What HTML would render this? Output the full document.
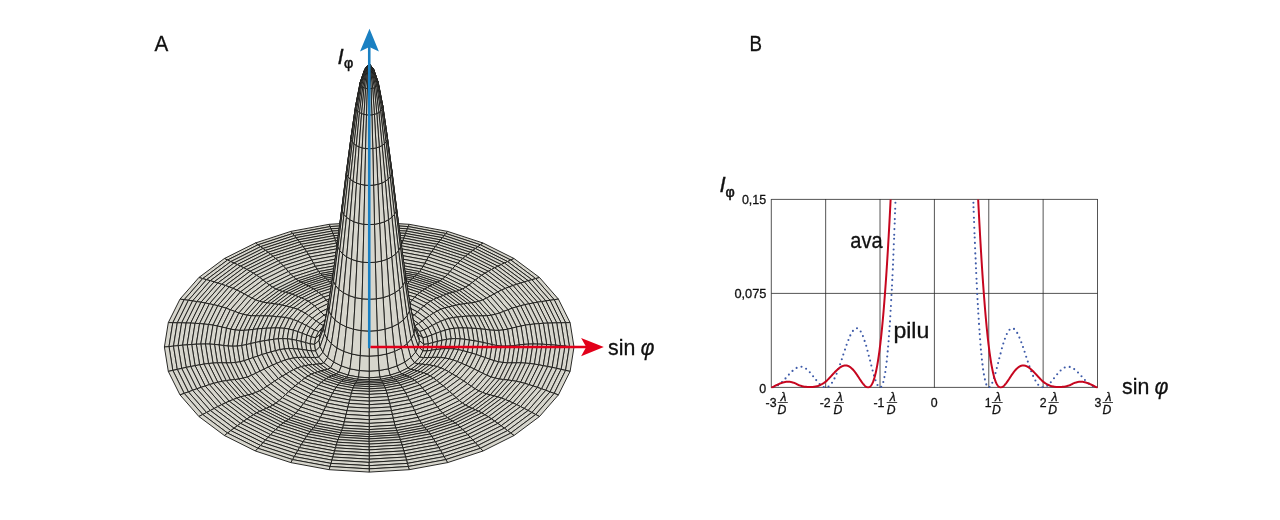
<!DOCTYPE html>
<html><head><meta charset="utf-8"><title>Airy</title>
<style>html,body{margin:0;padding:0;background:#fff}svg{display:block}</style></head>
<body><svg width="1280" height="520" viewBox="0 0 1280 520">
<rect width="1280" height="520" fill="#fff"/>
<g fill="#d7d6cd" stroke="#1d1d1b" stroke-width="0.95" stroke-linejoin="round">
<path d="M369.2 224.2L369.2 221.9L409.2 224.3L408.3 226.6Z"/>
<path d="M330.1 226.6L329.2 224.3L369.2 221.9L369.2 224.2Z"/>
<path d="M331 228.8L330.1 226.6L369.2 224.2L369.2 226.5Z"/>
<path d="M369.2 226.5L369.2 224.2L408.3 226.6L407.4 228.8Z"/>
<path d="M292.6 233.5L290.8 231.4L329.2 224.3L330.1 226.6Z"/>
<path d="M408.3 226.6L409.2 224.3L447.6 231.4L445.8 233.5Z"/>
<path d="M331.9 231.1L331 228.8L369.2 226.5L369.2 228.8Z"/>
<path d="M369.2 228.8L369.2 226.5L407.4 228.8L406.5 231.1Z"/>
<path d="M407.4 228.8L408.3 226.6L445.8 233.5L444.1 235.6Z"/>
<path d="M294.3 235.6L292.6 233.5L330.1 226.6L331 228.8Z"/>
<path d="M332.8 233.4L331.9 231.1L369.2 228.8L369.2 231.2Z"/>
<path d="M369.2 231.2L369.2 228.8L406.5 231.1L405.6 233.4Z"/>
<path d="M296.1 237.7L294.3 235.6L331 228.8L331.9 231.1Z"/>
<path d="M406.5 231.1L407.4 228.8L444.1 235.6L442.3 237.7Z"/>
<path d="M333.7 235.7L332.8 233.4L369.2 231.2L369.2 233.6Z"/>
<path d="M369.2 233.6L369.2 231.2L405.6 233.4L404.7 235.7Z"/>
<path d="M405.6 233.4L406.5 231.1L442.3 237.7L440.6 239.9Z"/>
<path d="M297.8 239.9L296.1 237.7L331.9 231.1L332.8 233.4Z"/>
<path d="M445.8 233.5L447.6 231.4L483 243L480.4 244.8Z"/>
<path d="M258 244.8L255.4 243L290.8 231.4L292.6 233.5Z"/>
<path d="M369.2 236.1L369.2 233.6L404.7 235.7L403.8 238.1Z"/>
<path d="M334.6 238.1L333.7 235.7L369.2 233.6L369.2 236.1Z"/>
<path d="M404.7 235.7L405.6 233.4L440.6 239.9L438.9 242Z"/>
<path d="M299.5 242L297.8 239.9L332.8 233.4L333.7 235.7Z"/>
<path d="M260.5 246.7L258 244.8L292.6 233.5L294.3 235.6Z"/>
<path d="M444.1 235.6L445.8 233.5L480.4 244.8L477.9 246.7Z"/>
<path d="M335.5 240.6L334.6 238.1L369.2 236.1L369.2 238.5Z"/>
<path d="M369.2 238.5L369.2 236.1L403.8 238.1L402.9 240.6Z"/>
<path d="M403.8 238.1L404.7 235.7L438.9 242L437.1 244.3Z"/>
<path d="M301.3 244.3L299.5 242L333.7 235.7L334.6 238.1Z"/>
<path d="M442.3 237.7L444.1 235.6L477.9 246.7L475.4 248.5Z"/>
<path d="M263 248.5L260.5 246.7L294.3 235.6L296.1 237.7Z"/>
<path d="M369.2 241.2L369.2 238.5L402.9 240.6L402.1 243.1Z"/>
<path d="M336.3 243.1L335.5 240.6L369.2 238.5L369.2 241.2Z"/>
<path d="M402.9 240.6L403.8 238.1L437.1 244.3L435.4 246.6Z"/>
<path d="M303 246.6L301.3 244.3L334.6 238.1L335.5 240.6Z"/>
<path d="M440.6 239.9L442.3 237.7L475.4 248.5L472.9 250.4Z"/>
<path d="M265.5 250.4L263 248.5L296.1 237.7L297.8 239.9Z"/>
<path d="M369.2 243.9L369.2 241.2L402.1 243.1L401.2 245.8Z"/>
<path d="M337.2 245.8L336.3 243.1L369.2 241.2L369.2 243.9Z"/>
<path d="M438.9 242L440.6 239.9L472.9 250.4L470.3 252.3Z"/>
<path d="M268.1 252.3L265.5 250.4L297.8 239.9L299.5 242Z"/>
<path d="M402.1 243.1L402.9 240.6L435.4 246.6L433.6 249Z"/>
<path d="M304.8 249L303 246.6L335.5 240.6L336.3 243.1Z"/>
<path d="M338.1 248.6L337.2 245.8L369.2 243.9L369.2 246.8Z"/>
<path d="M369.2 246.8L369.2 243.9L401.2 245.8L400.3 248.6Z"/>
<path d="M480.4 244.8L483 243L514 258.5L510.8 260Z"/>
<path d="M227.6 260L224.4 258.5L255.4 243L258 244.8Z"/>
<path d="M437.1 244.3L438.9 242L470.3 252.3L467.8 254.3Z"/>
<path d="M270.6 254.3L268.1 252.3L299.5 242L301.3 244.3Z"/>
<path d="M306.5 251.5L304.8 249L336.3 243.1L337.2 245.8Z"/>
<path d="M401.2 245.8L402.1 243.1L433.6 249L431.9 251.5Z"/>
<path d="M369.2 249.9L369.2 246.8L400.3 248.6L399.4 251.7Z"/>
<path d="M339 251.7L338.1 248.6L369.2 246.8L369.2 249.9Z"/>
<path d="M477.9 246.7L480.4 244.8L510.8 260L507.6 261.6Z"/>
<path d="M230.8 261.6L227.6 260L258 244.8L260.5 246.7Z"/>
<path d="M435.4 246.6L437.1 244.3L467.8 254.3L465.3 256.3Z"/>
<path d="M273.1 256.3L270.6 254.3L301.3 244.3L303 246.6Z"/>
<path d="M400.3 248.6L401.2 245.8L431.9 251.5L430.2 254.2Z"/>
<path d="M308.2 254.2L306.5 251.5L337.2 245.8L338.1 248.6Z"/>
<path d="M339.9 254.9L339 251.7L369.2 249.9L369.2 253.1Z"/>
<path d="M369.2 253.1L369.2 249.9L399.4 251.7L398.5 254.9Z"/>
<path d="M475.4 248.5L477.9 246.7L507.6 261.6L504.4 263Z"/>
<path d="M234 263L230.8 261.6L260.5 246.7L263 248.5Z"/>
<path d="M433.6 249L435.4 246.6L465.3 256.3L462.8 258.5Z"/>
<path d="M275.6 258.5L273.1 256.3L303 246.6L304.8 249Z"/>
<path d="M399.4 251.7L400.3 248.6L430.2 254.2L428.4 257.1Z"/>
<path d="M310 257.1L308.2 254.2L338.1 248.6L339 251.7Z"/>
<path d="M369.2 256.5L369.2 253.1L398.5 254.9L397.6 258.2Z"/>
<path d="M340.8 258.2L339.9 254.9L369.2 253.1L369.2 256.5Z"/>
<path d="M472.9 250.4L475.4 248.5L504.4 263L501.1 264.6Z"/>
<path d="M237.3 264.6L234 263L263 248.5L265.5 250.4Z"/>
<path d="M311.7 260.1L310 257.1L339 251.7L339.9 254.9Z"/>
<path d="M398.5 254.9L399.4 251.7L428.4 257.1L426.7 260.1Z"/>
<path d="M431.9 251.5L433.6 249L462.8 258.5L460.2 260.8Z"/>
<path d="M278.2 260.8L275.6 258.5L304.8 249L306.5 251.5Z"/>
<path d="M341.7 261.5L340.8 258.2L369.2 256.5L369.2 259.8Z"/>
<path d="M369.2 259.8L369.2 256.5L397.6 258.2L396.7 261.5Z"/>
<path d="M470.3 252.3L472.9 250.4L501.1 264.6L497.9 266.2Z"/>
<path d="M240.5 266.2L237.3 264.6L265.5 250.4L268.1 252.3Z"/>
<path d="M397.6 258.2L398.5 254.9L426.7 260.1L424.9 263.3Z"/>
<path d="M313.5 263.3L311.7 260.1L339.9 254.9L340.8 258.2Z"/>
<path d="M430.2 254.2L431.9 251.5L460.2 260.8L457.7 263.2Z"/>
<path d="M280.7 263.2L278.2 260.8L306.5 251.5L308.2 254.2Z"/>
<path d="M369.2 262.8L369.2 259.8L396.7 261.5L395.8 264.4Z"/>
<path d="M342.6 264.4L341.7 261.5L369.2 259.8L369.2 262.8Z"/>
<path d="M467.8 254.3L470.3 252.3L497.9 266.2L494.7 267.8Z"/>
<path d="M243.7 267.8L240.5 266.2L268.1 252.3L270.6 254.3Z"/>
<path d="M315.2 266.4L313.5 263.3L340.8 258.2L341.7 261.5Z"/>
<path d="M396.7 261.5L397.6 258.2L424.9 263.3L423.2 266.4Z"/>
<path d="M428.4 257.1L430.2 254.2L457.7 263.2L455.2 265.8Z"/>
<path d="M283.2 265.8L280.7 263.2L308.2 254.2L310 257.1Z"/>
<path d="M465.3 256.3L467.8 254.3L494.7 267.8L491.5 269.5Z"/>
<path d="M246.9 269.5L243.7 267.8L270.6 254.3L273.1 256.3Z"/>
<path d="M343.5 267L342.6 264.4L369.2 262.8L369.2 265.5Z"/>
<path d="M369.2 265.5L369.2 262.8L395.8 264.4L394.9 267Z"/>
<path d="M426.7 260.1L428.4 257.1L455.2 265.8L452.6 268.6Z"/>
<path d="M285.8 268.6L283.2 265.8L310 257.1L311.7 260.1Z"/>
<path d="M395.8 264.4L396.7 261.5L423.2 266.4L421.4 269.1Z"/>
<path d="M317 269.1L315.2 266.4L341.7 261.5L342.6 264.4Z"/>
<path d="M462.8 258.5L465.3 256.3L491.5 269.5L488.3 271.3Z"/>
<path d="M250.1 271.3L246.9 269.5L273.1 256.3L275.6 258.5Z"/>
<path d="M424.9 263.3L426.7 260.1L452.6 268.6L450.1 271.5Z"/>
<path d="M288.3 271.5L285.8 268.6L311.7 260.1L313.5 263.3Z"/>
<path d="M510.8 260L514 258.5L539.5 277.5L535.7 278.6Z"/>
<path d="M202.7 278.6L198.9 277.5L224.4 258.5L227.6 260Z"/>
<path d="M344.3 269.1L343.5 267L369.2 265.5L369.2 267.6Z"/>
<path d="M369.2 267.6L369.2 265.5L394.9 267L394.1 269.1Z"/>
<path d="M394.9 267L395.8 264.4L421.4 269.1L419.7 271.6Z"/>
<path d="M318.7 271.6L317 269.1L342.6 264.4L343.5 267Z"/>
<path d="M460.2 260.8L462.8 258.5L488.3 271.3L485 273.2Z"/>
<path d="M253.4 273.2L250.1 271.3L275.6 258.5L278.2 260.8Z"/>
<path d="M290.8 274.3L288.3 271.5L313.5 263.3L315.2 266.4Z"/>
<path d="M423.2 266.4L424.9 263.3L450.1 271.5L447.6 274.3Z"/>
<path d="M507.6 261.6L510.8 260L535.7 278.6L531.9 279.7Z"/>
<path d="M206.5 279.7L202.7 278.6L227.6 260L230.8 261.6Z"/>
<path d="M394.1 269.1L394.9 267L419.7 271.6L418 273.6Z"/>
<path d="M320.4 273.6L318.7 271.6L343.5 267L344.3 269.1Z"/>
<path d="M345.2 271L344.3 269.1L369.2 267.6L369.2 269.5Z"/>
<path d="M369.2 269.5L369.2 267.6L394.1 269.1L393.2 271Z"/>
<path d="M457.7 263.2L460.2 260.8L485 273.2L481.8 275.3Z"/>
<path d="M256.6 275.3L253.4 273.2L278.2 260.8L280.7 263.2Z"/>
<path d="M504.4 263L507.6 261.6L531.9 279.7L528.1 280.7Z"/>
<path d="M210.3 280.7L206.5 279.7L230.8 261.6L234 263Z"/>
<path d="M293.3 276.8L290.8 274.3L315.2 266.4L317 269.1Z"/>
<path d="M421.4 269.1L423.2 266.4L447.6 274.3L445.1 276.8Z"/>
<path d="M455.2 265.8L457.7 263.2L481.8 275.3L478.6 277.5Z"/>
<path d="M259.8 277.5L256.6 275.3L280.7 263.2L283.2 265.8Z"/>
<path d="M501.1 264.6L504.4 263L528.1 280.7L524.3 281.9Z"/>
<path d="M214.1 281.9L210.3 280.7L234 263L237.3 264.6Z"/>
<path d="M393.2 271L394.1 269.1L418 273.6L416.2 275.2Z"/>
<path d="M322.2 275.2L320.4 273.6L344.3 269.1L345.2 271Z"/>
<path d="M295.9 279.1L293.3 276.8L317 269.1L318.7 271.6Z"/>
<path d="M419.7 271.6L421.4 269.1L445.1 276.8L442.5 279.1Z"/>
<path d="M346.1 272.6L345.2 271L369.2 269.5L369.2 271.2Z"/>
<path d="M369.2 271.2L369.2 269.5L393.2 271L392.3 272.6Z"/>
<path d="M452.6 268.6L455.2 265.8L478.6 277.5L475.4 280Z"/>
<path d="M263 280L259.8 277.5L283.2 265.8L285.8 268.6Z"/>
<path d="M497.9 266.2L501.1 264.6L524.3 281.9L520.6 283Z"/>
<path d="M217.8 283L214.1 281.9L237.3 264.6L240.5 266.2Z"/>
<path d="M298.4 280.8L295.9 279.1L318.7 271.6L320.4 273.6Z"/>
<path d="M418 273.6L419.7 271.6L442.5 279.1L440 280.8Z"/>
<path d="M450.1 271.5L452.6 268.6L475.4 280L472.2 282.6Z"/>
<path d="M266.2 282.6L263 280L285.8 268.6L288.3 271.5Z"/>
<path d="M323.9 276.7L322.2 275.2L345.2 271L346.1 272.6Z"/>
<path d="M392.3 272.6L393.2 271L416.2 275.2L414.5 276.7Z"/>
<path d="M494.7 267.8L497.9 266.2L520.6 283L516.8 284.3Z"/>
<path d="M221.6 284.3L217.8 283L240.5 266.2L243.7 267.8Z"/>
<path d="M369.2 273L369.2 271.2L392.3 272.6L391.4 274.3Z"/>
<path d="M347 274.3L346.1 272.6L369.2 271.2L369.2 273Z"/>
<path d="M447.6 274.3L450.1 271.5L472.2 282.6L469 285Z"/>
<path d="M269.4 285L266.2 282.6L288.3 271.5L290.8 274.3Z"/>
<path d="M491.5 269.5L494.7 267.8L516.8 284.3L513 285.5Z"/>
<path d="M225.4 285.5L221.6 284.3L243.7 267.8L246.9 269.5Z"/>
<path d="M416.2 275.2L418 273.6L440 280.8L437.5 282.2Z"/>
<path d="M300.9 282.2L298.4 280.8L320.4 273.6L322.2 275.2Z"/>
<path d="M325.7 278.3L323.9 276.7L346.1 272.6L347 274.3Z"/>
<path d="M391.4 274.3L392.3 272.6L414.5 276.7L412.7 278.3Z"/>
<path d="M445.1 276.8L447.6 274.3L469 285L465.7 287.2Z"/>
<path d="M272.7 287.2L269.4 285L290.8 274.3L293.3 276.8Z"/>
<path d="M369.2 274.8L369.2 273L391.4 274.3L390.5 276Z"/>
<path d="M347.9 276L347 274.3L369.2 273L369.2 274.8Z"/>
<path d="M488.3 271.3L491.5 269.5L513 285.5L509.2 286.9Z"/>
<path d="M229.2 286.9L225.4 285.5L246.9 269.5L250.1 271.3Z"/>
<path d="M414.5 276.7L416.2 275.2L437.5 282.2L434.9 283.4Z"/>
<path d="M303.5 283.4L300.9 282.2L322.2 275.2L323.9 276.7Z"/>
<path d="M442.5 279.1L445.1 276.8L465.7 287.2L462.5 289.1Z"/>
<path d="M275.9 289.1L272.7 287.2L293.3 276.8L295.9 279.1Z"/>
<path d="M485 273.2L488.3 271.3L509.2 286.9L505.4 288.4Z"/>
<path d="M233 288.4L229.2 286.9L250.1 271.3L253.4 273.2Z"/>
<path d="M390.5 276L391.4 274.3L412.7 278.3L411 279.8Z"/>
<path d="M327.4 279.8L325.7 278.3L347 274.3L347.9 276Z"/>
<path d="M348.8 278L347.9 276L369.2 274.8L369.2 276.7Z"/>
<path d="M369.2 276.7L369.2 274.8L390.5 276L389.6 278Z"/>
<path d="M481.8 275.3L485 273.2L505.4 288.4L501.6 290Z"/>
<path d="M236.8 290L233 288.4L253.4 273.2L256.6 275.3Z"/>
<path d="M440 280.8L442.5 279.1L462.5 289.1L459.3 290.4Z"/>
<path d="M279.1 290.4L275.9 289.1L295.9 279.1L298.4 280.8Z"/>
<path d="M412.7 278.3L414.5 276.7L434.9 283.4L432.4 284.7Z"/>
<path d="M306 284.7L303.5 283.4L323.9 276.7L325.7 278.3Z"/>
<path d="M478.6 277.5L481.8 275.3L501.6 290L497.9 291.9Z"/>
<path d="M240.5 291.9L236.8 290L256.6 275.3L259.8 277.5Z"/>
<path d="M389.6 278L390.5 276L411 279.8L409.3 281.6Z"/>
<path d="M329.1 281.6L327.4 279.8L347.9 276L348.8 278Z"/>
<path d="M349.7 280L348.8 278L369.2 276.7L369.2 278.8Z"/>
<path d="M369.2 278.8L369.2 276.7L389.6 278L388.7 280Z"/>
<path d="M535.7 278.6L539.5 277.5L558.4 299.1L554.2 299.7Z"/>
<path d="M184.2 299.7L180 299.1L198.9 277.5L202.7 278.6Z"/>
<path d="M437.5 282.2L440 280.8L459.3 290.4L456.1 291.5Z"/>
<path d="M282.3 291.5L279.1 290.4L298.4 280.8L300.9 282.2Z"/>
<path d="M475.4 280L478.6 277.5L497.9 291.9L494.1 293.9Z"/>
<path d="M244.3 293.9L240.5 291.9L259.8 277.5L263 280Z"/>
<path d="M411 279.8L412.7 278.3L432.4 284.7L429.9 286Z"/>
<path d="M308.5 286L306 284.7L325.7 278.3L327.4 279.8Z"/>
<path d="M531.9 279.7L535.7 278.6L554.2 299.7L550 300.3Z"/>
<path d="M188.4 300.3L184.2 299.7L202.7 278.6L206.5 279.7Z"/>
<path d="M472.2 282.6L475.4 280L494.1 293.9L490.3 296.1Z"/>
<path d="M248.1 296.1L244.3 293.9L263 280L266.2 282.6Z"/>
<path d="M330.9 283.5L329.1 281.6L348.8 278L349.7 280Z"/>
<path d="M388.7 280L389.6 278L409.3 281.6L407.5 283.5Z"/>
<path d="M285.5 292.4L282.3 291.5L300.9 282.2L303.5 283.4Z"/>
<path d="M434.9 283.4L437.5 282.2L456.1 291.5L452.9 292.4Z"/>
<path d="M350.6 282L349.7 280L369.2 278.8L369.2 280.9Z"/>
<path d="M369.2 280.9L369.2 278.8L388.7 280L387.8 282Z"/>
<path d="M528.1 280.7L531.9 279.7L550 300.3L545.8 300.9Z"/>
<path d="M192.6 300.9L188.4 300.3L206.5 279.7L210.3 280.7Z"/>
<path d="M469 285L472.2 282.6L490.3 296.1L486.5 298.1Z"/>
<path d="M251.9 298.1L248.1 296.1L266.2 282.6L269.4 285Z"/>
<path d="M409.3 281.6L411 279.8L429.9 286L427.4 287.5Z"/>
<path d="M311 287.5L308.5 286L327.4 279.8L329.1 281.6Z"/>
<path d="M524.3 281.9L528.1 280.7L545.8 300.9L541.6 301.6Z"/>
<path d="M196.8 301.6L192.6 300.9L210.3 280.7L214.1 281.9Z"/>
<path d="M465.7 287.2L469 285L486.5 298.1L482.7 299.9Z"/>
<path d="M255.7 299.9L251.9 298.1L269.4 285L272.7 287.2Z"/>
<path d="M332.6 285.4L330.9 283.5L349.7 280L350.6 282Z"/>
<path d="M387.8 282L388.7 280L407.5 283.5L405.8 285.4Z"/>
<path d="M432.4 284.7L434.9 283.4L452.9 292.4L449.7 293.3Z"/>
<path d="M288.7 293.3L285.5 292.4L303.5 283.4L306 284.7Z"/>
<path d="M351.4 284.3L350.6 282L369.2 280.9L369.2 283.2Z"/>
<path d="M369.2 283.2L369.2 280.9L387.8 282L387 284.3Z"/>
<path d="M520.6 283L524.3 281.9L541.6 301.6L537.4 302.2Z"/>
<path d="M201 302.2L196.8 301.6L214.1 281.9L217.8 283Z"/>
<path d="M462.5 289.1L465.7 287.2L482.7 299.9L478.9 301.3Z"/>
<path d="M259.5 301.3L255.7 299.9L272.7 287.2L275.9 289.1Z"/>
<path d="M407.5 283.5L409.3 281.6L427.4 287.5L424.8 289.1Z"/>
<path d="M313.6 289.1L311 287.5L329.1 281.6L330.9 283.5Z"/>
<path d="M516.8 284.3L520.6 283L537.4 302.2L533.2 303Z"/>
<path d="M205.2 303L201 302.2L217.8 283L221.6 284.3Z"/>
<path d="M387 284.3L387.8 282L405.8 285.4L404 287.4Z"/>
<path d="M334.4 287.4L332.6 285.4L350.6 282L351.4 284.3Z"/>
<path d="M429.9 286L432.4 284.7L449.7 293.3L446.4 294.3Z"/>
<path d="M292 294.3L288.7 293.3L306 284.7L308.5 286Z"/>
<path d="M459.3 290.4L462.5 289.1L478.9 301.3L475.2 302.2Z"/>
<path d="M263.2 302.2L259.5 301.3L275.9 289.1L279.1 290.4Z"/>
<path d="M369.2 285.8L369.2 283.2L387 284.3L386.1 286.8Z"/>
<path d="M352.3 286.8L351.4 284.3L369.2 283.2L369.2 285.8Z"/>
<path d="M513 285.5L516.8 284.3L533.2 303L529 303.8Z"/>
<path d="M209.4 303.8L205.2 303L221.6 284.3L225.4 285.5Z"/>
<path d="M405.8 285.4L407.5 283.5L424.8 289.1L422.3 290.7Z"/>
<path d="M316.1 290.7L313.6 289.1L330.9 283.5L332.6 285.4Z"/>
<path d="M509.2 286.9L513 285.5L529 303.8L524.8 304.7Z"/>
<path d="M213.6 304.7L209.4 303.8L225.4 285.5L229.2 286.9Z"/>
<path d="M456.1 291.5L459.3 290.4L475.2 302.2L471.4 302.9Z"/>
<path d="M267 302.9L263.2 302.2L279.1 290.4L282.3 291.5Z"/>
<path d="M427.4 287.5L429.9 286L446.4 294.3L443.2 295.5Z"/>
<path d="M295.2 295.5L292 294.3L308.5 286L311 287.5Z"/>
<path d="M386.1 286.8L387 284.3L404 287.4L402.3 289.8Z"/>
<path d="M336.1 289.8L334.4 287.4L351.4 284.3L352.3 286.8Z"/>
<path d="M353.2 289.7L352.3 286.8L369.2 285.8L369.2 288.7Z"/>
<path d="M369.2 288.7L369.2 285.8L386.1 286.8L385.2 289.7Z"/>
<path d="M505.4 288.4L509.2 286.9L524.8 304.7L520.6 305.7Z"/>
<path d="M217.8 305.7L213.6 304.7L229.2 286.9L233 288.4Z"/>
<path d="M404 287.4L405.8 285.4L422.3 290.7L419.8 292.6Z"/>
<path d="M318.6 292.6L316.1 290.7L332.6 285.4L334.4 287.4Z"/>
<path d="M452.9 292.4L456.1 291.5L471.4 302.9L467.6 303.3Z"/>
<path d="M270.8 303.3L267 302.9L282.3 291.5L285.5 292.4Z"/>
<path d="M501.6 290L505.4 288.4L520.6 305.7L516.4 306.9Z"/>
<path d="M222 306.9L217.8 305.7L233 288.4L236.8 290Z"/>
<path d="M424.8 289.1L427.4 287.5L443.2 295.5L440 296.7Z"/>
<path d="M298.4 296.7L295.2 295.5L311 287.5L313.6 289.1Z"/>
<path d="M337.9 292.6L336.1 289.8L352.3 286.8L353.2 289.7Z"/>
<path d="M385.2 289.7L386.1 286.8L402.3 289.8L400.5 292.6Z"/>
<path d="M354.1 293L353.2 289.7L369.2 288.7L369.2 292.1Z"/>
<path d="M369.2 292.1L369.2 288.7L385.2 289.7L384.3 293Z"/>
<path d="M497.9 291.9L501.6 290L516.4 306.9L512.2 308.2Z"/>
<path d="M226.2 308.2L222 306.9L236.8 290L240.5 291.9Z"/>
<path d="M402.3 289.8L404 287.4L419.8 292.6L417.2 294.7Z"/>
<path d="M321.2 294.7L318.6 292.6L334.4 287.4L336.1 289.8Z"/>
<path d="M449.7 293.3L452.9 292.4L467.6 303.3L463.8 303.9Z"/>
<path d="M274.6 303.9L270.8 303.3L285.5 292.4L288.7 293.3Z"/>
<path d="M494.1 293.9L497.9 291.9L512.2 308.2L508 309.8Z"/>
<path d="M230.4 309.8L226.2 308.2L240.5 291.9L244.3 293.9Z"/>
<path d="M384.3 293L385.2 289.7L400.5 292.6L398.8 295.7Z"/>
<path d="M339.6 295.7L337.9 292.6L353.2 289.7L354.1 293Z"/>
<path d="M422.3 290.7L424.8 289.1L440 296.7L436.8 298Z"/>
<path d="M301.6 298L298.4 296.7L313.6 289.1L316.1 290.7Z"/>
<path d="M490.3 296.1L494.1 293.9L508 309.8L503.7 311.4Z"/>
<path d="M234.7 311.4L230.4 309.8L244.3 293.9L248.1 296.1Z"/>
<path d="M355 296.7L354.1 293L369.2 292.1L369.2 295.8Z"/>
<path d="M369.2 295.8L369.2 292.1L384.3 293L383.4 296.7Z"/>
<path d="M486.5 298.1L490.3 296.1L503.7 311.4L499.5 313Z"/>
<path d="M238.9 313L234.7 311.4L248.1 296.1L251.9 298.1Z"/>
<path d="M400.5 292.6L402.3 289.8L417.2 294.7L414.7 297.2Z"/>
<path d="M323.7 297.2L321.2 294.7L336.1 289.8L337.9 292.6Z"/>
<path d="M446.4 294.3L449.7 293.3L463.8 303.9L460 304.4Z"/>
<path d="M278.4 304.4L274.6 303.9L288.7 293.3L292 294.3Z"/>
<path d="M383.4 296.7L384.3 293L398.8 295.7L397.1 299.2Z"/>
<path d="M341.3 299.2L339.6 295.7L354.1 293L355 296.7Z"/>
<path d="M482.7 299.9L486.5 298.1L499.5 313L495.3 314.3Z"/>
<path d="M243.1 314.3L238.9 313L251.9 298.1L255.7 299.9Z"/>
<path d="M419.8 292.6L422.3 290.7L436.8 298L433.6 299.5Z"/>
<path d="M304.8 299.5L301.6 298L316.1 290.7L318.6 292.6Z"/>
<path d="M369.2 299.7L369.2 295.8L383.4 296.7L382.5 300.5Z"/>
<path d="M355.9 300.5L355 296.7L369.2 295.8L369.2 299.7Z"/>
<path d="M398.8 295.7L400.5 292.6L414.7 297.2L412.2 300.1Z"/>
<path d="M326.2 300.1L323.7 297.2L337.9 292.6L339.6 295.7Z"/>
<path d="M478.9 301.3L482.7 299.9L495.3 314.3L491.1 315.2Z"/>
<path d="M247.3 315.2L243.1 314.3L255.7 299.9L259.5 301.3Z"/>
<path d="M443.2 295.5L446.4 294.3L460 304.4L456.2 305.2Z"/>
<path d="M282.2 305.2L278.4 304.4L292 294.3L295.2 295.5Z"/>
<path d="M343.1 302.9L341.3 299.2L355 296.7L355.9 300.5Z"/>
<path d="M382.5 300.5L383.4 296.7L397.1 299.2L395.3 302.9Z"/>
<path d="M356.8 304.4L355.9 300.5L369.2 299.7L369.2 303.7Z"/>
<path d="M369.2 303.7L369.2 299.7L382.5 300.5L381.6 304.4Z"/>
<path d="M417.2 294.7L419.8 292.6L433.6 299.5L430.3 301.2Z"/>
<path d="M308.1 301.2L304.8 299.5L318.6 292.6L321.2 294.7Z"/>
<path d="M475.2 302.2L478.9 301.3L491.1 315.2L486.9 315.7Z"/>
<path d="M251.5 315.7L247.3 315.2L259.5 301.3L263.2 302.2Z"/>
<path d="M328.7 303.3L326.2 300.1L339.6 295.7L341.3 299.2Z"/>
<path d="M397.1 299.2L398.8 295.7L412.2 300.1L409.7 303.3Z"/>
<path d="M554.2 299.7L558.4 299.1L570.1 322.6L565.6 322.7Z"/>
<path d="M172.8 322.7L168.3 322.6L180 299.1L184.2 299.7Z"/>
<path d="M440 296.7L443.2 295.5L456.2 305.2L452.4 306Z"/>
<path d="M286 306L282.2 305.2L295.2 295.5L298.4 296.7Z"/>
<path d="M344.8 306.6L343.1 302.9L355.9 300.5L356.8 304.4Z"/>
<path d="M381.6 304.4L382.5 300.5L395.3 302.9L393.6 306.6Z"/>
<path d="M357.7 308.3L356.8 304.4L369.2 303.7L369.2 307.7Z"/>
<path d="M369.2 307.7L369.2 303.7L381.6 304.4L380.7 308.3Z"/>
<path d="M471.4 302.9L475.2 302.2L486.9 315.7L482.7 315.9Z"/>
<path d="M255.7 315.9L251.5 315.7L263.2 302.2L267 302.9Z"/>
<path d="M414.7 297.2L417.2 294.7L430.3 301.2L427.1 303.4Z"/>
<path d="M311.3 303.4L308.1 301.2L321.2 294.7L323.7 297.2Z"/>
<path d="M550 300.3L554.2 299.7L565.6 322.7L561.1 322.8Z"/>
<path d="M177.3 322.8L172.8 322.7L184.2 299.7L188.4 300.3Z"/>
<path d="M395.3 302.9L397.1 299.2L409.7 303.3L407.1 306.7Z"/>
<path d="M331.3 306.7L328.7 303.3L341.3 299.2L343.1 302.9Z"/>
<path d="M380.7 308.3L381.6 304.4L393.6 306.6L391.8 310.4Z"/>
<path d="M346.6 310.4L344.8 306.6L356.8 304.4L357.7 308.3Z"/>
<path d="M545.8 300.9L550 300.3L561.1 322.8L556.7 322.8Z"/>
<path d="M181.7 322.8L177.3 322.8L188.4 300.3L192.6 300.9Z"/>
<path d="M436.8 298L440 296.7L452.4 306L448.7 306.9Z"/>
<path d="M289.7 306.9L286 306L298.4 296.7L301.6 298Z"/>
<path d="M467.6 303.3L471.4 302.9L482.7 315.9L478.5 315.8Z"/>
<path d="M259.9 315.8L255.7 315.9L267 302.9L270.8 303.3Z"/>
<path d="M412.2 300.1L414.7 297.2L427.1 303.4L423.9 306Z"/>
<path d="M314.5 306L311.3 303.4L323.7 297.2L326.2 300.1Z"/>
<path d="M358.5 311.7L357.7 308.3L369.2 307.7L369.2 311Z"/>
<path d="M369.2 311L369.2 307.7L380.7 308.3L379.9 311.7Z"/>
<path d="M393.6 306.6L395.3 302.9L407.1 306.7L404.6 310.2Z"/>
<path d="M333.8 310.2L331.3 306.7L343.1 302.9L344.8 306.6Z"/>
<path d="M541.6 301.6L545.8 300.9L556.7 322.8L552.2 323Z"/>
<path d="M186.2 323L181.7 322.8L192.6 300.9L196.8 301.6Z"/>
<path d="M348.3 313.6L346.6 310.4L357.7 308.3L358.5 311.7Z"/>
<path d="M379.9 311.7L380.7 308.3L391.8 310.4L390.1 313.6Z"/>
<path d="M537.4 302.2L541.6 301.6L552.2 323L547.7 323.1Z"/>
<path d="M190.7 323.1L186.2 323L196.8 301.6L201 302.2Z"/>
<path d="M433.6 299.5L436.8 298L448.7 306.9L444.9 307.9Z"/>
<path d="M293.5 307.9L289.7 306.9L301.6 298L304.8 299.5Z"/>
<path d="M409.7 303.3L412.2 300.1L423.9 306L420.7 308.8Z"/>
<path d="M317.7 308.8L314.5 306L326.2 300.1L328.7 303.3Z"/>
<path d="M463.8 303.9L467.6 303.3L478.5 315.8L474.3 315.9Z"/>
<path d="M264.1 315.9L259.9 315.8L270.8 303.3L274.6 303.9Z"/>
<path d="M391.8 310.4L393.6 306.6L404.6 310.2L402.1 313.7Z"/>
<path d="M336.3 313.7L333.8 310.2L344.8 306.6L346.6 310.4Z"/>
<path d="M533.2 303L537.4 302.2L547.7 323.1L543.3 323.3Z"/>
<path d="M195.1 323.3L190.7 323.1L201 302.2L205.2 303Z"/>
<path d="M407.1 306.7L409.7 303.3L420.7 308.8L417.5 311.9Z"/>
<path d="M320.9 311.9L317.7 308.8L328.7 303.3L331.3 306.7Z"/>
<path d="M529 303.8L533.2 303L543.3 323.3L538.8 323.6Z"/>
<path d="M199.6 323.6L195.1 323.3L205.2 303L209.4 303.8Z"/>
<path d="M430.3 301.2L433.6 299.5L444.9 307.9L441.1 309.2Z"/>
<path d="M297.3 309.2L293.5 307.9L304.8 299.5L308.1 301.2Z"/>
<path d="M460 304.4L463.8 303.9L474.3 315.9L470.1 316Z"/>
<path d="M268.3 316L264.1 315.9L274.6 303.9L278.4 304.4Z"/>
<path d="M359.4 310.5L358.5 311.7L369.2 311L369.2 309.9Z"/>
<path d="M369.2 309.9L369.2 311L379.9 311.7L379 310.5Z"/>
<path d="M338.9 316.7L336.3 313.7L346.6 310.4L348.3 313.6Z"/>
<path d="M390.1 313.6L391.8 310.4L402.1 313.7L399.5 316.7Z"/>
<path d="M524.8 304.7L529 303.8L538.8 323.6L534.4 324Z"/>
<path d="M204 324L199.6 323.6L209.4 303.8L213.6 304.7Z"/>
<path d="M404.6 310.2L407.1 306.7L417.5 311.9L414.3 315.1Z"/>
<path d="M324.1 315.1L320.9 311.9L331.3 306.7L333.8 310.2Z"/>
<path d="M379 310.5L379.9 311.7L390.1 313.6L388.4 312.2Z"/>
<path d="M350 312.2L348.3 313.6L358.5 311.7L359.4 310.5Z"/>
<path d="M520.6 305.7L524.8 304.7L534.4 324L529.9 324.5Z"/>
<path d="M208.5 324.5L204 324L213.6 304.7L217.8 305.7Z"/>
<path d="M427.1 303.4L430.3 301.2L441.1 309.2L437.3 311Z"/>
<path d="M301.1 311L297.3 309.2L308.1 301.2L311.3 303.4Z"/>
<path d="M456.2 305.2L460 304.4L470.1 316L465.9 316.2Z"/>
<path d="M272.5 316.2L268.3 316L278.4 304.4L282.2 305.2Z"/>
<path d="M516.4 306.9L520.6 305.7L529.9 324.5L525.4 325.1Z"/>
<path d="M213 325.1L208.5 324.5L217.8 305.7L222 306.9Z"/>
<path d="M402.1 313.7L404.6 310.2L414.3 315.1L411 318.2Z"/>
<path d="M327.4 318.2L324.1 315.1L333.8 310.2L336.3 313.7Z"/>
<path d="M512.2 308.2L516.4 306.9L525.4 325.1L521 326Z"/>
<path d="M217.4 326L213 325.1L222 306.9L226.2 308.2Z"/>
<path d="M423.9 306L427.1 303.4L437.3 311L433.5 313.1Z"/>
<path d="M304.9 313.1L301.1 311L311.3 303.4L314.5 306Z"/>
<path d="M508 309.8L512.2 308.2L521 326L516.5 327Z"/>
<path d="M221.9 327L217.4 326L226.2 308.2L230.4 309.8Z"/>
<path d="M452.4 306L456.2 305.2L465.9 316.2L461.7 316.6Z"/>
<path d="M276.7 316.6L272.5 316.2L282.2 305.2L286 306Z"/>
<path d="M341.4 315.1L338.9 316.7L348.3 313.6L350 312.2Z"/>
<path d="M388.4 312.2L390.1 313.6L399.5 316.7L397 315.1Z"/>
<path d="M503.7 311.4L508 309.8L516.5 327L512 328.1Z"/>
<path d="M226.4 328.1L221.9 327L230.4 309.8L234.7 311.4Z"/>
<path d="M399.5 316.7L402.1 313.7L411 318.2L407.8 320.8Z"/>
<path d="M330.6 320.8L327.4 318.2L336.3 313.7L338.9 316.7Z"/>
<path d="M420.7 308.8L423.9 306L433.5 313.1L429.7 315.6Z"/>
<path d="M308.7 315.6L304.9 313.1L314.5 306L317.7 308.8Z"/>
<path d="M499.5 313L503.7 311.4L512 328.1L507.6 329.2Z"/>
<path d="M230.8 329.2L226.4 328.1L234.7 311.4L238.9 313Z"/>
<path d="M495.3 314.3L499.5 313L507.6 329.2L503.1 329.9Z"/>
<path d="M235.3 329.9L230.8 329.2L238.9 313L243.1 314.3Z"/>
<path d="M448.7 306.9L452.4 306L461.7 316.6L457.5 317Z"/>
<path d="M280.9 317L276.7 316.6L286 306L289.7 306.9Z"/>
<path d="M417.5 311.9L420.7 308.8L429.7 315.6L426 318.2Z"/>
<path d="M312.4 318.2L308.7 315.6L317.7 308.8L320.9 311.9Z"/>
<path d="M491.1 315.2L495.3 314.3L503.1 329.9L498.6 330.4Z"/>
<path d="M239.8 330.4L235.3 329.9L243.1 314.3L247.3 315.2Z"/>
<path d="M414.3 315.1L417.5 311.9L426 318.2L422.2 321Z"/>
<path d="M316.2 321L312.4 318.2L320.9 311.9L324.1 315.1Z"/>
<path d="M486.9 315.7L491.1 315.2L498.6 330.4L494.2 330.3Z"/>
<path d="M244.2 330.3L239.8 330.4L247.3 315.2L251.5 315.7Z"/>
<path d="M444.9 307.9L448.7 306.9L457.5 317L453.3 317.5Z"/>
<path d="M285.1 317.5L280.9 317L289.7 306.9L293.5 307.9Z"/>
<path d="M397 315.1L399.5 316.7L407.8 320.8L404.6 318.9Z"/>
<path d="M333.8 318.9L330.6 320.8L338.9 316.7L341.4 315.1Z"/>
<path d="M411 318.2L414.3 315.1L422.2 321L418.4 323.7Z"/>
<path d="M320 323.7L316.2 321L324.1 315.1L327.4 318.2Z"/>
<path d="M369.2 300.5L369.2 309.9L379 310.5L378.1 301Z"/>
<path d="M360.3 301L359.4 310.5L369.2 309.9L369.2 300.5Z"/>
<path d="M482.7 315.9L486.9 315.7L494.2 330.3L489.7 330Z"/>
<path d="M248.7 330L244.2 330.3L251.5 315.7L255.7 315.9Z"/>
<path d="M441.1 309.2L444.9 307.9L453.3 317.5L449.1 318.4Z"/>
<path d="M289.3 318.4L285.1 317.5L293.5 307.9L297.3 309.2Z"/>
<path d="M378.1 301L379 310.5L388.4 312.2L386.6 302.6Z"/>
<path d="M351.8 302.6L350 312.2L359.4 310.5L360.3 301Z"/>
<path d="M407.8 320.8L411 318.2L418.4 323.7L414.6 325.9Z"/>
<path d="M323.8 325.9L320 323.7L327.4 318.2L330.6 320.8Z"/>
<path d="M478.5 315.8L482.7 315.9L489.7 330L485.3 329.4Z"/>
<path d="M253.1 329.4L248.7 330L255.7 315.9L259.9 315.8Z"/>
<path d="M437.3 311L441.1 309.2L449.1 318.4L444.9 319.6Z"/>
<path d="M293.5 319.6L289.3 318.4L297.3 309.2L301.1 311Z"/>
<path d="M433.5 313.1L437.3 311L444.9 319.6L440.7 321.3Z"/>
<path d="M297.7 321.3L293.5 319.6L301.1 311L304.9 313.1Z"/>
<path d="M386.6 302.6L388.4 312.2L397 315.1L394.5 305.2Z"/>
<path d="M343.9 305.2L341.4 315.1L350 312.2L351.8 302.6Z"/>
<path d="M474.3 315.9L478.5 315.8L485.3 329.4L480.8 328.9Z"/>
<path d="M257.6 328.9L253.1 329.4L259.9 315.8L264.1 315.9Z"/>
<path d="M404.6 318.9L407.8 320.8L414.6 325.9L410.8 323.5Z"/>
<path d="M327.6 323.5L323.8 325.9L330.6 320.8L333.8 318.9Z"/>
<path d="M429.7 315.6L433.5 313.1L440.7 321.3L436.5 323.3Z"/>
<path d="M301.9 323.3L297.7 321.3L304.9 313.1L308.7 315.6Z"/>
<path d="M470.1 316L474.3 315.9L480.8 328.9L476.3 328.5Z"/>
<path d="M262.1 328.5L257.6 328.9L264.1 315.9L268.3 316Z"/>
<path d="M426 318.2L429.7 315.6L436.5 323.3L432.3 325.4Z"/>
<path d="M306.1 325.4L301.9 323.3L308.7 315.6L312.4 318.2Z"/>
<path d="M422.2 321L426 318.2L432.3 325.4L428.1 327.7Z"/>
<path d="M310.3 327.7L306.1 325.4L312.4 318.2L316.2 321Z"/>
<path d="M465.9 316.2L470.1 316L476.3 328.5L471.9 328.2Z"/>
<path d="M266.5 328.2L262.1 328.5L268.3 316L272.5 316.2Z"/>
<path d="M418.4 323.7L422.2 321L428.1 327.7L423.9 330Z"/>
<path d="M314.5 330L310.3 327.7L316.2 321L320 323.7Z"/>
<path d="M394.5 305.2L397 315.1L404.6 318.9L401.4 308.6Z"/>
<path d="M337 308.6L333.8 318.9L341.4 315.1L343.9 305.2Z"/>
<path d="M414.6 325.9L418.4 323.7L423.9 330L419.7 331.6Z"/>
<path d="M318.7 331.6L314.5 330L320 323.7L323.8 325.9Z"/>
<path d="M461.7 316.6L465.9 316.2L471.9 328.2L467.4 328.1Z"/>
<path d="M271 328.1L266.5 328.2L272.5 316.2L276.7 316.6Z"/>
<path d="M457.5 317L461.7 316.6L467.4 328.1L462.9 327.9Z"/>
<path d="M275.5 327.9L271 328.1L276.7 316.6L280.9 317Z"/>
<path d="M410.8 323.5L414.6 325.9L419.7 331.6L415.5 328.8Z"/>
<path d="M322.9 328.8L318.7 331.6L323.8 325.9L327.6 323.5Z"/>
<path d="M565.6 322.7L570.1 322.6L574 347L569.4 346.6Z"/>
<path d="M169 346.6L164.4 347L168.3 322.6L172.8 322.7Z"/>
<path d="M453.3 317.5L457.5 317L462.9 327.9L458.5 328Z"/>
<path d="M279.9 328L275.5 327.9L280.9 317L285.1 317.5Z"/>
<path d="M561.1 322.8L565.6 322.7L569.4 346.6L564.9 346.1Z"/>
<path d="M173.5 346.1L169 346.6L172.8 322.7L177.3 322.8Z"/>
<path d="M401.4 308.6L404.6 318.9L410.8 323.5L407 312.9Z"/>
<path d="M331.4 312.9L327.6 323.5L333.8 318.9L337 308.6Z"/>
<path d="M556.7 322.8L561.1 322.8L564.9 346.1L560.3 345.6Z"/>
<path d="M178.1 345.6L173.5 346.1L177.3 322.8L181.7 322.8Z"/>
<path d="M449.1 318.4L453.3 317.5L458.5 328L454 328.3Z"/>
<path d="M284.4 328.3L279.9 328L285.1 317.5L289.3 318.4Z"/>
<path d="M552.2 323L556.7 322.8L560.3 345.6L555.8 345.2Z"/>
<path d="M182.6 345.2L178.1 345.6L181.7 322.8L186.2 323Z"/>
<path d="M444.9 319.6L449.1 318.4L454 328.3L449.5 329Z"/>
<path d="M288.9 329L284.4 328.3L289.3 318.4L293.5 319.6Z"/>
<path d="M547.7 323.1L552.2 323L555.8 345.2L551.2 344.8Z"/>
<path d="M187.2 344.8L182.6 345.2L186.2 323L190.7 323.1Z"/>
<path d="M440.7 321.3L444.9 319.6L449.5 329L445.1 330.2Z"/>
<path d="M293.3 330.2L288.9 329L293.5 319.6L297.7 321.3Z"/>
<path d="M543.3 323.3L547.7 323.1L551.2 344.8L546.7 344.5Z"/>
<path d="M191.7 344.5L187.2 344.8L190.7 323.1L195.1 323.3Z"/>
<path d="M436.5 323.3L440.7 321.3L445.1 330.2L440.6 331.6Z"/>
<path d="M297.8 331.6L293.3 330.2L297.7 321.3L301.9 323.3Z"/>
<path d="M538.8 323.6L543.3 323.3L546.7 344.5L542.1 344.2Z"/>
<path d="M196.3 344.2L191.7 344.5L195.1 323.3L199.6 323.6Z"/>
<path d="M432.3 325.4L436.5 323.3L440.6 331.6L436.2 333.3Z"/>
<path d="M302.2 333.3L297.8 331.6L301.9 323.3L306.1 325.4Z"/>
<path d="M428.1 327.7L432.3 325.4L436.2 333.3L431.7 335Z"/>
<path d="M306.7 335L302.2 333.3L306.1 325.4L310.3 327.7Z"/>
<path d="M423.9 330L428.1 327.7L431.7 335L427.2 336.7Z"/>
<path d="M311.2 336.7L306.7 335L310.3 327.7L314.5 330Z"/>
<path d="M534.4 324L538.8 323.6L542.1 344.2L537.6 344.1Z"/>
<path d="M200.8 344.1L196.3 344.2L199.6 323.6L204 324Z"/>
<path d="M369.2 281.1L369.2 300.5L378.1 301L377.2 281.6Z"/>
<path d="M361.2 281.6L360.3 301L369.2 300.5L369.2 281.1Z"/>
<path d="M419.7 331.6L423.9 330L427.2 336.7L422.8 337.9Z"/>
<path d="M315.6 337.9L311.2 336.7L314.5 330L318.7 331.6Z"/>
<path d="M529.9 324.5L534.4 324L537.6 344.1L533 344Z"/>
<path d="M205.4 344L200.8 344.1L204 324L208.5 324.5Z"/>
<path d="M525.4 325.1L529.9 324.5L533 344L528.5 344.1Z"/>
<path d="M209.9 344.1L205.4 344L208.5 324.5L213 325.1Z"/>
<path d="M507.6 329.2L512 328.1L514.8 345.5L510.3 346Z"/>
<path d="M228.1 346L223.6 345.5L226.4 328.1L230.8 329.2Z"/>
<path d="M512 328.1L516.5 327L519.4 344.9L514.8 345.5Z"/>
<path d="M223.6 345.5L219 344.9L221.9 327L226.4 328.1Z"/>
<path d="M503.1 329.9L507.6 329.2L510.3 346L505.7 346.2Z"/>
<path d="M232.7 346.2L228.1 346L230.8 329.2L235.3 329.9Z"/>
<path d="M521 326L525.4 325.1L528.5 344.1L523.9 344.4Z"/>
<path d="M214.5 344.4L209.9 344.1L213 325.1L217.4 326Z"/>
<path d="M516.5 327L521 326L523.9 344.4L519.4 344.9Z"/>
<path d="M219 344.9L214.5 344.4L217.4 326L221.9 327Z"/>
<path d="M498.6 330.4L503.1 329.9L505.7 346.2L501.2 346.1Z"/>
<path d="M237.2 346.1L232.7 346.2L235.3 329.9L239.8 330.4Z"/>
<path d="M377.2 281.6L378.1 301L386.6 302.6L384.9 283Z"/>
<path d="M353.5 283L351.8 302.6L360.3 301L361.2 281.6Z"/>
<path d="M494.2 330.3L498.6 330.4L501.2 346.1L496.6 345.5Z"/>
<path d="M241.8 345.5L237.2 346.1L239.8 330.4L244.2 330.3Z"/>
<path d="M415.5 328.8L419.7 331.6L422.8 337.9L418.3 334.5Z"/>
<path d="M320.1 334.5L315.6 337.9L318.7 331.6L322.9 328.8Z"/>
<path d="M489.7 330L494.2 330.3L496.6 345.5L492.1 344.6Z"/>
<path d="M246.3 344.6L241.8 345.5L244.2 330.3L248.7 330Z"/>
<path d="M407 312.9L410.8 323.5L415.5 328.8L411.2 317.7Z"/>
<path d="M327.2 317.7L322.9 328.8L327.6 323.5L331.4 312.9Z"/>
<path d="M384.9 283L386.6 302.6L394.5 305.2L392 285.3Z"/>
<path d="M346.4 285.3L343.9 305.2L351.8 302.6L353.5 283Z"/>
<path d="M485.3 329.4L489.7 330L492.1 344.6L487.5 343.5Z"/>
<path d="M250.9 343.5L246.3 344.6L248.7 330L253.1 329.4Z"/>
<path d="M480.8 328.9L485.3 329.4L487.5 343.5L483 342.5Z"/>
<path d="M255.4 342.5L250.9 343.5L253.1 329.4L257.6 328.9Z"/>
<path d="M476.3 328.5L480.8 328.9L483 342.5L478.4 341.5Z"/>
<path d="M260 341.5L255.4 342.5L257.6 328.9L262.1 328.5Z"/>
<path d="M471.9 328.2L476.3 328.5L478.4 341.5L473.9 340.7Z"/>
<path d="M264.5 340.7L260 341.5L262.1 328.5L266.5 328.2Z"/>
<path d="M392 285.3L394.5 305.2L401.4 308.6L398.2 288.4Z"/>
<path d="M340.2 288.4L337 308.6L343.9 305.2L346.4 285.3Z"/>
<path d="M467.4 328.1L471.9 328.2L473.9 340.7L469.3 340Z"/>
<path d="M269.1 340L264.5 340.7L266.5 328.2L271 328.1Z"/>
<path d="M422.8 337.9L427.2 336.7L428.4 343.8L423.8 344.4Z"/>
<path d="M314.6 344.4L310 343.8L311.2 336.7L315.6 337.9Z"/>
<path d="M462.9 327.9L467.4 328.1L469.3 340L464.8 339.3Z"/>
<path d="M273.6 339.3L269.1 340L271 328.1L275.5 327.9Z"/>
<path d="M427.2 336.7L431.7 335L432.9 342.6L428.4 343.8Z"/>
<path d="M310 343.8L305.5 342.6L306.7 335L311.2 336.7Z"/>
<path d="M431.7 335L436.2 333.3L437.5 341.4L432.9 342.6Z"/>
<path d="M305.5 342.6L300.9 341.4L302.2 333.3L306.7 335Z"/>
<path d="M411.2 317.7L415.5 328.8L418.3 334.5L413.8 322.9Z"/>
<path d="M324.6 322.9L320.1 334.5L322.9 328.8L327.2 317.7Z"/>
<path d="M458.5 328L462.9 327.9L464.8 339.3L460.2 338.8Z"/>
<path d="M278.2 338.8L273.6 339.3L275.5 327.9L279.9 328Z"/>
<path d="M436.2 333.3L440.6 331.6L442 340.3L437.5 341.4Z"/>
<path d="M300.9 341.4L296.4 340.3L297.8 331.6L302.2 333.3Z"/>
<path d="M418.3 334.5L422.8 337.9L423.8 344.4L419.3 340.5Z"/>
<path d="M319.1 340.5L314.6 344.4L315.6 337.9L320.1 334.5Z"/>
<path d="M454 328.3L458.5 328L460.2 338.8L455.7 338.6Z"/>
<path d="M282.7 338.6L278.2 338.8L279.9 328L284.4 328.3Z"/>
<path d="M440.6 331.6L445.1 330.2L446.6 339.4L442 340.3Z"/>
<path d="M296.4 340.3L291.8 339.4L293.3 330.2L297.8 331.6Z"/>
<path d="M449.5 329L454 328.3L455.7 338.6L451.1 338.8Z"/>
<path d="M287.3 338.8L282.7 338.6L284.4 328.3L288.9 329Z"/>
<path d="M445.1 330.2L449.5 329L451.1 338.8L446.6 339.4Z"/>
<path d="M291.8 339.4L287.3 338.8L288.9 329L293.3 330.2Z"/>
<path d="M398.2 288.4L401.4 308.6L407 312.9L403.3 292.2Z"/>
<path d="M335.1 292.2L331.4 312.9L337 308.6L340.2 288.4Z"/>
<path d="M413.8 322.9L418.3 334.5L419.3 340.5L414.7 328.3Z"/>
<path d="M323.7 328.3L319.1 340.5L320.1 334.5L324.6 322.9Z"/>
<path d="M423.8 344.4L428.4 343.8L427.2 350.9L422.8 350.9Z"/>
<path d="M315.6 350.9L311.2 350.9L310 343.8L314.6 344.4Z"/>
<path d="M403.3 292.2L407 312.9L411.2 317.7L407 296.5Z"/>
<path d="M331.4 296.5L327.2 317.7L331.4 312.9L335.1 292.2Z"/>
<path d="M419.3 340.5L423.8 344.4L422.8 350.9L418.3 346.5Z"/>
<path d="M320.1 346.5L315.6 350.9L314.6 344.4L319.1 340.5Z"/>
<path d="M428.4 343.8L432.9 342.6L431.7 350.2L427.2 350.9Z"/>
<path d="M311.2 350.9L306.7 350.2L305.5 342.6L310 343.8Z"/>
<path d="M432.9 342.6L437.5 341.4L436.2 349.5L431.7 350.2Z"/>
<path d="M306.7 350.2L302.2 349.5L300.9 341.4L305.5 342.6Z"/>
<path d="M437.5 341.4L442 340.3L440.6 349L436.2 349.5Z"/>
<path d="M302.2 349.5L297.8 349L296.4 340.3L300.9 341.4Z"/>
<path d="M496.6 345.5L501.2 346.1L498.6 361.8L494.2 360.7Z"/>
<path d="M244.2 360.7L239.8 361.8L237.2 346.1L241.8 345.5Z"/>
<path d="M501.2 346.1L505.7 346.2L503.1 362.5L498.6 361.8Z"/>
<path d="M239.8 361.8L235.3 362.5L232.7 346.2L237.2 346.1Z"/>
<path d="M492.1 344.6L496.6 345.5L494.2 360.7L489.7 359.2Z"/>
<path d="M248.7 359.2L244.2 360.7L241.8 345.5L246.3 344.6Z"/>
<path d="M442 340.3L446.6 339.4L445.1 348.6L440.6 349Z"/>
<path d="M297.8 349L293.3 348.6L291.8 339.4L296.4 340.3Z"/>
<path d="M505.7 346.2L510.3 346L507.6 362.8L503.1 362.5Z"/>
<path d="M235.3 362.5L230.8 362.8L228.1 346L232.7 346.2Z"/>
<path d="M487.5 343.5L492.1 344.6L489.7 359.2L485.3 357.6Z"/>
<path d="M253.1 357.6L248.7 359.2L246.3 344.6L250.9 343.5Z"/>
<path d="M510.3 346L514.8 345.5L512 362.9L507.6 362.8Z"/>
<path d="M230.8 362.8L226.4 362.9L223.6 345.5L228.1 346Z"/>
<path d="M483 342.5L487.5 343.5L485.3 357.6L480.8 356.1Z"/>
<path d="M257.6 356.1L253.1 357.6L250.9 343.5L255.4 342.5Z"/>
<path d="M446.6 339.4L451.1 338.8L449.5 348.6L445.1 348.6Z"/>
<path d="M293.3 348.6L288.9 348.6L287.3 338.8L291.8 339.4Z"/>
<path d="M362.1 255.2L361.2 281.6L369.2 281.1L369.2 254.8Z"/>
<path d="M369.2 254.8L369.2 281.1L377.2 281.6L376.3 255.2Z"/>
<path d="M478.4 341.5L483 342.5L480.8 356.1L476.3 354.5Z"/>
<path d="M262.1 354.5L257.6 356.1L255.4 342.5L260 341.5Z"/>
<path d="M514.8 345.5L519.4 344.9L516.5 362.8L512 362.9Z"/>
<path d="M226.4 362.9L221.9 362.8L219 344.9L223.6 345.5Z"/>
<path d="M473.9 340.7L478.4 341.5L476.3 354.5L471.9 353.2Z"/>
<path d="M266.5 353.2L262.1 354.5L260 341.5L264.5 340.7Z"/>
<path d="M451.1 338.8L455.7 338.6L454 348.9L449.5 348.6Z"/>
<path d="M288.9 348.6L284.4 348.9L282.7 338.6L287.3 338.8Z"/>
<path d="M469.3 340L473.9 340.7L471.9 353.2L467.4 351.9Z"/>
<path d="M271 351.9L266.5 353.2L264.5 340.7L269.1 340Z"/>
<path d="M407 296.5L411.2 317.7L413.8 322.9L409.4 301.2Z"/>
<path d="M329 301.2L324.6 322.9L327.2 317.7L331.4 296.5Z"/>
<path d="M464.8 339.3L469.3 340L467.4 351.9L462.9 350.7Z"/>
<path d="M275.5 350.7L271 351.9L269.1 340L273.6 339.3Z"/>
<path d="M455.7 338.6L460.2 338.8L458.5 349.6L454 348.9Z"/>
<path d="M284.4 348.9L279.9 349.6L278.2 338.8L282.7 338.6Z"/>
<path d="M460.2 338.8L464.8 339.3L462.9 350.7L458.5 349.6Z"/>
<path d="M279.9 349.6L275.5 350.7L273.6 339.3L278.2 338.8Z"/>
<path d="M414.7 328.3L419.3 340.5L418.3 346.5L413.8 333.7Z"/>
<path d="M324.6 333.7L320.1 346.5L319.1 340.5L323.7 328.3Z"/>
<path d="M519.4 344.9L523.9 344.4L521 362.8L516.5 362.8Z"/>
<path d="M221.9 362.8L217.4 362.8L214.5 344.4L219 344.9Z"/>
<path d="M376.3 255.2L377.2 281.6L384.9 283L383.1 256.4Z"/>
<path d="M355.3 256.4L353.5 283L361.2 281.6L362.1 255.2Z"/>
<path d="M523.9 344.4L528.5 344.1L525.4 363.1L521 362.8Z"/>
<path d="M217.4 362.8L213 363.1L209.9 344.1L214.5 344.4Z"/>
<path d="M528.5 344.1L533 344L529.9 363.5L525.4 363.1Z"/>
<path d="M213 363.1L208.5 363.5L205.4 344L209.9 344.1Z"/>
<path d="M533 344L537.6 344.1L534.4 364.1L529.9 363.5Z"/>
<path d="M208.5 363.5L204 364.1L200.8 344.1L205.4 344Z"/>
<path d="M422.8 350.9L427.2 350.9L423.9 357.6L419.7 357.2Z"/>
<path d="M318.7 357.2L314.5 357.6L311.2 350.9L315.6 350.9Z"/>
<path d="M537.6 344.1L542.1 344.2L538.8 364.8L534.4 364.1Z"/>
<path d="M204 364.1L199.6 364.8L196.3 344.2L200.8 344.1Z"/>
<path d="M418.3 346.5L422.8 350.9L419.7 357.2L415.5 352.2Z"/>
<path d="M322.9 352.2L318.7 357.2L315.6 350.9L320.1 346.5Z"/>
<path d="M542.1 344.2L546.7 344.5L543.3 365.7L538.8 364.8Z"/>
<path d="M199.6 364.8L195.1 365.7L191.7 344.5L196.3 344.2Z"/>
<path d="M546.7 344.5L551.2 344.8L547.7 366.5L543.3 365.7Z"/>
<path d="M195.1 365.7L190.7 366.5L187.2 344.8L191.7 344.5Z"/>
<path d="M551.2 344.8L555.8 345.2L552.2 367.4L547.7 366.5Z"/>
<path d="M190.7 366.5L186.2 367.4L182.6 345.2L187.2 344.8Z"/>
<path d="M564.9 346.1L569.4 346.6L565.6 370.4L561.1 369.4Z"/>
<path d="M177.3 369.4L172.8 370.4L169 346.6L173.5 346.1Z"/>
<path d="M569.4 346.6L574 347L570.1 371.4L565.6 370.4Z"/>
<path d="M172.8 370.4L168.3 371.4L164.4 347L169 346.6Z"/>
<path d="M555.8 345.2L560.3 345.6L556.7 368.4L552.2 367.4Z"/>
<path d="M186.2 367.4L181.7 368.4L178.1 345.6L182.6 345.2Z"/>
<path d="M560.3 345.6L564.9 346.1L561.1 369.4L556.7 368.4Z"/>
<path d="M181.7 368.4L177.3 369.4L173.5 346.1L178.1 345.6Z"/>
<path d="M383.1 256.4L384.9 283L392 285.3L389.4 258.5Z"/>
<path d="M349 258.5L346.4 285.3L353.5 283L355.3 256.4Z"/>
<path d="M427.2 350.9L431.7 350.2L428.1 357.5L423.9 357.6Z"/>
<path d="M314.5 357.6L310.3 357.5L306.7 350.2L311.2 350.9Z"/>
<path d="M431.7 350.2L436.2 349.5L432.3 357.4L428.1 357.5Z"/>
<path d="M310.3 357.5L306.1 357.4L302.2 349.5L306.7 350.2Z"/>
<path d="M389.4 258.5L392 285.3L398.2 288.4L394.9 261.3Z"/>
<path d="M343.5 261.3L340.2 288.4L346.4 285.3L349 258.5Z"/>
<path d="M409.4 301.2L413.8 322.9L414.7 328.3L410.2 306.1Z"/>
<path d="M328.2 306.1L323.7 328.3L324.6 322.9L329 301.2Z"/>
<path d="M413.8 333.7L418.3 346.5L415.5 352.2L411.2 338.9Z"/>
<path d="M327.2 338.9L322.9 352.2L320.1 346.5L324.6 333.7Z"/>
<path d="M436.2 349.5L440.6 349L436.5 357.3L432.3 357.4Z"/>
<path d="M306.1 357.4L301.9 357.3L297.8 349L302.2 349.5Z"/>
<path d="M440.6 349L445.1 348.6L440.7 357.5L436.5 357.3Z"/>
<path d="M301.9 357.3L297.7 357.5L293.3 348.6L297.8 349Z"/>
<path d="M415.5 352.2L419.7 357.2L414.6 362.9L410.8 357.5Z"/>
<path d="M327.6 357.5L323.8 362.9L318.7 357.2L322.9 352.2Z"/>
<path d="M419.7 357.2L423.9 357.6L418.4 363.9L414.6 362.9Z"/>
<path d="M323.8 362.9L320 363.9L314.5 357.6L318.7 357.2Z"/>
<path d="M394.9 261.3L398.2 288.4L403.3 292.2L399.5 264.6Z"/>
<path d="M338.9 264.6L335.1 292.2L340.2 288.4L343.5 261.3Z"/>
<path d="M445.1 348.6L449.5 348.6L444.9 358L440.7 357.5Z"/>
<path d="M297.7 357.5L293.5 358L288.9 348.6L293.3 348.6Z"/>
<path d="M449.5 348.6L454 348.9L449.1 358.8L444.9 358Z"/>
<path d="M293.5 358L289.3 358.8L284.4 348.9L288.9 348.6Z"/>
<path d="M423.9 357.6L428.1 357.5L422.2 364.2L418.4 363.9Z"/>
<path d="M320 363.9L316.2 364.2L310.3 357.5L314.5 357.6Z"/>
<path d="M410.2 306.1L414.7 328.3L413.8 333.7L409.4 311Z"/>
<path d="M329 311L324.6 333.7L323.7 328.3L328.2 306.1Z"/>
<path d="M454 348.9L458.5 349.6L453.3 360.1L449.1 358.8Z"/>
<path d="M289.3 358.8L285.1 360.1L279.9 349.6L284.4 348.9Z"/>
<path d="M411.2 338.9L415.5 352.2L410.8 357.5L407 343.7Z"/>
<path d="M331.4 343.7L327.6 357.5L322.9 352.2L327.2 338.9Z"/>
<path d="M458.5 349.6L462.9 350.7L457.5 361.6L453.3 360.1Z"/>
<path d="M285.1 360.1L280.9 361.6L275.5 350.7L279.9 349.6Z"/>
<path d="M462.9 350.7L467.4 351.9L461.7 363.4L457.5 361.6Z"/>
<path d="M280.9 361.6L276.7 363.4L271 351.9L275.5 350.7Z"/>
<path d="M428.1 357.5L432.3 357.4L426 364.6L422.2 364.2Z"/>
<path d="M316.2 364.2L312.4 364.6L306.1 357.4L310.3 357.5Z"/>
<path d="M399.5 264.6L403.3 292.2L407 296.5L402.8 268.5Z"/>
<path d="M335.6 268.5L331.4 296.5L335.1 292.2L338.9 264.6Z"/>
<path d="M467.4 351.9L471.9 353.2L465.9 365.2L461.7 363.4Z"/>
<path d="M276.7 363.4L272.5 365.2L266.5 353.2L271 351.9Z"/>
<path d="M471.9 353.2L476.3 354.5L470.1 367L465.9 365.2Z"/>
<path d="M272.5 365.2L268.3 367L262.1 354.5L266.5 353.2Z"/>
<path d="M476.3 354.5L480.8 356.1L474.3 369.1L470.1 367Z"/>
<path d="M268.3 367L264.1 369.1L257.6 356.1L262.1 354.5Z"/>
<path d="M480.8 356.1L485.3 357.6L478.5 371.2L474.3 369.1Z"/>
<path d="M264.1 369.1L259.9 371.2L253.1 357.6L257.6 356.1Z"/>
<path d="M410.8 357.5L414.6 362.9L407.8 368L404.6 362.1Z"/>
<path d="M333.8 362.1L330.6 368L323.8 362.9L327.6 357.5Z"/>
<path d="M485.3 357.6L489.7 359.2L482.7 373.3L478.5 371.2Z"/>
<path d="M259.9 371.2L255.7 373.3L248.7 359.2L253.1 357.6Z"/>
<path d="M489.7 359.2L494.2 360.7L486.9 375.3L482.7 373.3Z"/>
<path d="M255.7 373.3L251.5 375.3L244.2 360.7L248.7 359.2Z"/>
<path d="M494.2 360.7L498.6 361.8L491.1 377L486.9 375.3Z"/>
<path d="M251.5 375.3L247.3 377L239.8 361.8L244.2 360.7Z"/>
<path d="M330.6 368L327.4 369.4L320 363.9L323.8 362.9Z"/>
<path d="M414.6 362.9L418.4 363.9L411 369.4L407.8 368Z"/>
<path d="M432.3 357.4L436.5 357.3L429.7 365L426 364.6Z"/>
<path d="M312.4 364.6L308.7 365L301.9 357.3L306.1 357.4Z"/>
<path d="M498.6 361.8L503.1 362.5L495.3 378.1L491.1 377Z"/>
<path d="M247.3 377L243.1 378.1L235.3 362.5L239.8 361.8Z"/>
<path d="M503.1 362.5L507.6 362.8L499.5 379L495.3 378.1Z"/>
<path d="M243.1 378.1L238.9 379L230.8 362.8L235.3 362.5Z"/>
<path d="M409.4 311L413.8 333.7L411.2 338.9L407 315.7Z"/>
<path d="M331.4 315.7L327.2 338.9L324.6 333.7L329 311Z"/>
<path d="M436.5 357.3L440.7 357.5L433.5 365.7L429.7 365Z"/>
<path d="M308.7 365L304.9 365.7L297.7 357.5L301.9 357.3Z"/>
<path d="M407 343.7L410.8 357.5L404.6 362.1L401.4 348Z"/>
<path d="M337 348L333.8 362.1L327.6 357.5L331.4 343.7Z"/>
<path d="M418.4 363.9L422.2 364.2L414.3 370.1L411 369.4Z"/>
<path d="M327.4 369.4L324.1 370.1L316.2 364.2L320 363.9Z"/>
<path d="M507.6 362.8L512 362.9L503.7 379.6L499.5 379Z"/>
<path d="M238.9 379L234.7 379.6L226.4 362.9L230.8 362.8Z"/>
<path d="M402.8 268.5L407 296.5L409.4 301.2L404.9 272.7Z"/>
<path d="M333.5 272.7L329 301.2L331.4 296.5L335.6 268.5Z"/>
<path d="M512 362.9L516.5 362.8L508 380L503.7 379.6Z"/>
<path d="M234.7 379.6L230.4 380L221.9 362.8L226.4 362.9Z"/>
<path d="M404.6 362.1L407.8 368L399.5 372.1L397 365.9Z"/>
<path d="M341.4 365.9L338.9 372.1L330.6 368L333.8 362.1Z"/>
<path d="M440.7 357.5L444.9 358L437.3 366.6L433.5 365.7Z"/>
<path d="M304.9 365.7L301.1 366.6L293.5 358L297.7 357.5Z"/>
<path d="M516.5 362.8L521 362.8L512.2 380.6L508 380Z"/>
<path d="M230.4 380L226.2 380.6L217.4 362.8L221.9 362.8Z"/>
<path d="M422.2 364.2L426 364.6L417.5 370.9L414.3 370.1Z"/>
<path d="M324.1 370.1L320.9 370.9L312.4 364.6L316.2 364.2Z"/>
<path d="M407.8 368L411 369.4L402.1 373.9L399.5 372.1Z"/>
<path d="M338.9 372.1L336.3 373.9L327.4 369.4L330.6 368Z"/>
<path d="M444.9 358L449.1 358.8L441.1 368L437.3 366.6Z"/>
<path d="M301.1 366.6L297.3 368L289.3 358.8L293.5 358Z"/>
<path d="M521 362.8L525.4 363.1L516.4 381.3L512.2 380.6Z"/>
<path d="M226.2 380.6L222 381.3L213 363.1L217.4 362.8Z"/>
<path d="M401.4 348L404.6 362.1L397 365.9L394.5 351.4Z"/>
<path d="M343.9 351.4L341.4 365.9L333.8 362.1L337 348Z"/>
<path d="M407 315.7L411.2 338.9L407 343.7L403.3 320Z"/>
<path d="M335.1 320L331.4 343.7L327.2 338.9L331.4 315.7Z"/>
<path d="M525.4 363.1L529.9 363.5L520.6 382.3L516.4 381.3Z"/>
<path d="M222 381.3L217.8 382.3L208.5 363.5L213 363.1Z"/>
<path d="M449.1 358.8L453.3 360.1L444.9 369.7L441.1 368Z"/>
<path d="M297.3 368L293.5 369.7L285.1 360.1L289.3 358.8Z"/>
<path d="M404.9 272.7L409.4 301.2L410.2 306.1L405.6 277Z"/>
<path d="M332.8 277L328.2 306.1L329 301.2L333.5 272.7Z"/>
<path d="M397 365.9L399.5 372.1L390.1 375.2L388.4 368.8Z"/>
<path d="M350 368.8L348.3 375.2L338.9 372.1L341.4 365.9Z"/>
<path d="M426 364.6L429.7 365L420.7 371.8L417.5 370.9Z"/>
<path d="M320.9 370.9L317.7 371.8L308.7 365L312.4 364.6Z"/>
<path d="M529.9 363.5L534.4 364.1L524.8 383.4L520.6 382.3Z"/>
<path d="M217.8 382.3L213.6 383.4L204 364.1L208.5 363.5Z"/>
<path d="M411 369.4L414.3 370.1L404.6 375L402.1 373.9Z"/>
<path d="M336.3 373.9L333.8 375L324.1 370.1L327.4 369.4Z"/>
<path d="M363 224L362.1 255.2L369.2 254.8L369.2 223.6Z"/>
<path d="M369.2 223.6L369.2 254.8L376.3 255.2L375.4 224Z"/>
<path d="M453.3 360.1L457.5 361.6L448.7 371.7L444.9 369.7Z"/>
<path d="M293.5 369.7L289.7 371.7L280.9 361.6L285.1 360.1Z"/>
<path d="M534.4 364.1L538.8 364.8L529 384.6L524.8 383.4Z"/>
<path d="M213.6 383.4L209.4 384.6L199.6 364.8L204 364.1Z"/>
<path d="M357 225.1L355.3 256.4L362.1 255.2L363 224Z"/>
<path d="M375.4 224L376.3 255.2L383.1 256.4L381.4 225.1Z"/>
<path d="M399.5 372.1L402.1 373.9L391.8 377.2L390.1 375.2Z"/>
<path d="M348.3 375.2L346.6 377.2L336.3 373.9L338.9 372.1Z"/>
<path d="M457.5 361.6L461.7 363.4L452.4 374L448.7 371.7Z"/>
<path d="M289.7 371.7L286 374L276.7 363.4L280.9 361.6Z"/>
<path d="M538.8 364.8L543.3 365.7L533.2 386L529 384.6Z"/>
<path d="M209.4 384.6L205.2 386L195.1 365.7L199.6 364.8Z"/>
<path d="M543.3 365.7L547.7 366.5L537.4 387.4L533.2 386Z"/>
<path d="M205.2 386L201 387.4L190.7 366.5L195.1 365.7Z"/>
<path d="M394.5 351.4L397 365.9L388.4 368.8L386.6 354Z"/>
<path d="M351.8 354L350 368.8L341.4 365.9L343.9 351.4Z"/>
<path d="M388.4 368.8L390.1 375.2L379.9 377.1L379 370.5Z"/>
<path d="M359.4 370.5L358.5 377.1L348.3 375.2L350 368.8Z"/>
<path d="M429.7 365L433.5 365.7L423.9 372.8L420.7 371.8Z"/>
<path d="M317.7 371.8L314.5 372.8L304.9 365.7L308.7 365Z"/>
<path d="M461.7 363.4L465.9 365.2L456.2 376.2L452.4 374Z"/>
<path d="M286 374L282.2 376.2L272.5 365.2L276.7 363.4Z"/>
<path d="M381.4 225.1L383.1 256.4L389.4 258.5L386.9 226.9Z"/>
<path d="M351.5 226.9L349 258.5L355.3 256.4L357 225.1Z"/>
<path d="M547.7 366.5L552.2 367.4L541.6 388.8L537.4 387.4Z"/>
<path d="M201 387.4L196.8 388.8L186.2 367.4L190.7 366.5Z"/>
<path d="M414.3 370.1L417.5 370.9L407.1 376.1L404.6 375Z"/>
<path d="M333.8 375L331.3 376.1L320.9 370.9L324.1 370.1Z"/>
<path d="M465.9 365.2L470.1 367L460 378.6L456.2 376.2Z"/>
<path d="M282.2 376.2L278.4 378.6L268.3 367L272.5 365.2Z"/>
<path d="M552.2 367.4L556.7 368.4L545.8 390.3L541.6 388.8Z"/>
<path d="M196.8 388.8L192.6 390.3L181.7 368.4L186.2 367.4Z"/>
<path d="M379 370.5L379.9 377.1L369.2 377.8L369.2 371.1Z"/>
<path d="M369.2 371.1L369.2 377.8L358.5 377.1L359.4 370.5Z"/>
<path d="M403.3 320L407 343.7L401.4 348L398.2 323.8Z"/>
<path d="M340.2 323.8L337 348L331.4 343.7L335.1 320Z"/>
<path d="M556.7 368.4L561.1 369.4L550 391.9L545.8 390.3Z"/>
<path d="M192.6 390.3L188.4 391.9L177.3 369.4L181.7 368.4Z"/>
<path d="M358.5 377.1L357.7 379.3L346.6 377.2L348.3 375.2Z"/>
<path d="M390.1 375.2L391.8 377.2L380.7 379.3L379.9 377.1Z"/>
<path d="M470.1 367L474.3 369.1L463.8 381.1L460 378.6Z"/>
<path d="M278.4 378.6L274.6 381.1L264.1 369.1L268.3 367Z"/>
<path d="M402.1 373.9L404.6 375L393.6 378.6L391.8 377.2Z"/>
<path d="M346.6 377.2L344.8 378.6L333.8 375L336.3 373.9Z"/>
<path d="M386.6 354L388.4 368.8L379 370.5L378.1 355.6Z"/>
<path d="M360.3 355.6L359.4 370.5L350 368.8L351.8 354Z"/>
<path d="M405.6 277L410.2 306.1L409.4 311L404.9 281.3Z"/>
<path d="M333.5 281.3L329 311L328.2 306.1L332.8 277Z"/>
<path d="M561.1 369.4L565.6 370.4L554.2 393.4L550 391.9Z"/>
<path d="M188.4 391.9L184.2 393.4L172.8 370.4L177.3 369.4Z"/>
<path d="M433.5 365.7L437.3 366.6L427.1 374.2L423.9 372.8Z"/>
<path d="M314.5 372.8L311.3 374.2L301.1 366.6L304.9 365.7Z"/>
<path d="M474.3 369.1L478.5 371.2L467.6 383.7L463.8 381.1Z"/>
<path d="M274.6 381.1L270.8 383.7L259.9 371.2L264.1 369.1Z"/>
<path d="M386.9 226.9L389.4 258.5L394.9 261.3L391.7 229.3Z"/>
<path d="M346.7 229.3L343.5 261.3L349 258.5L351.5 226.9Z"/>
<path d="M565.6 370.4L570.1 371.4L558.4 394.9L554.2 393.4Z"/>
<path d="M184.2 393.4L180 394.9L168.3 371.4L172.8 370.4Z"/>
<path d="M369.2 377.8L369.2 379.9L357.7 379.3L358.5 377.1Z"/>
<path d="M379.9 377.1L380.7 379.3L369.2 379.9L369.2 377.8Z"/>
<path d="M478.5 371.2L482.7 373.3L471.4 386.3L467.6 383.7Z"/>
<path d="M270.8 383.7L267 386.3L255.7 373.3L259.9 371.2Z"/>
<path d="M378.1 355.6L379 370.5L369.2 371.1L369.2 356.1Z"/>
<path d="M369.2 356.1L369.2 371.1L359.4 370.5L360.3 355.6Z"/>
<path d="M417.5 370.9L420.7 371.8L409.7 377.3L407.1 376.1Z"/>
<path d="M331.3 376.1L328.7 377.3L317.7 371.8L320.9 370.9Z"/>
<path d="M482.7 373.3L486.9 375.3L475.2 388.8L471.4 386.3Z"/>
<path d="M267 386.3L263.2 388.8L251.5 375.3L255.7 373.3Z"/>
<path d="M437.3 366.6L441.1 368L430.3 376L427.1 374.2Z"/>
<path d="M311.3 374.2L308.1 376L297.3 368L301.1 366.6Z"/>
<path d="M486.9 375.3L491.1 377L478.9 390.9L475.2 388.8Z"/>
<path d="M263.2 388.8L259.5 390.9L247.3 377L251.5 375.3Z"/>
<path d="M391.8 377.2L393.6 378.6L381.6 380.8L380.7 379.3Z"/>
<path d="M357.7 379.3L356.8 380.8L344.8 378.6L346.6 377.2Z"/>
<path d="M346.4 326.9L343.9 351.4L337 348L340.2 323.8Z"/>
<path d="M398.2 323.8L401.4 348L394.5 351.4L392 326.9Z"/>
<path d="M404.6 375L407.1 376.1L395.3 379.9L393.6 378.6Z"/>
<path d="M344.8 378.6L343.1 379.9L331.3 376.1L333.8 375Z"/>
<path d="M342.7 232.3L338.9 264.6L343.5 261.3L346.7 229.3Z"/>
<path d="M391.7 229.3L394.9 261.3L399.5 264.6L395.7 232.3Z"/>
<path d="M491.1 377L495.3 378.1L482.7 392.5L478.9 390.9Z"/>
<path d="M259.5 390.9L255.7 392.5L243.1 378.1L247.3 377Z"/>
<path d="M441.1 368L444.9 369.7L433.6 378.1L430.3 376Z"/>
<path d="M308.1 376L304.8 378.1L293.5 369.7L297.3 368Z"/>
<path d="M380.7 379.3L381.6 380.8L369.2 381.5L369.2 379.9Z"/>
<path d="M369.2 379.9L369.2 381.5L356.8 380.8L357.7 379.3Z"/>
<path d="M420.7 371.8L423.9 372.8L412.2 378.7L409.7 377.3Z"/>
<path d="M328.7 377.3L326.2 378.7L314.5 372.8L317.7 371.8Z"/>
<path d="M404.9 281.3L409.4 311L407 315.7L402.8 285.5Z"/>
<path d="M335.6 285.5L331.4 315.7L329 311L333.5 281.3Z"/>
<path d="M495.3 378.1L499.5 379L486.5 393.9L482.7 392.5Z"/>
<path d="M255.7 392.5L251.9 393.9L238.9 379L243.1 378.1Z"/>
<path d="M304.8 378.1L301.6 380.6L289.7 371.7L293.5 369.7Z"/>
<path d="M444.9 369.7L448.7 371.7L436.8 380.6L433.6 378.1Z"/>
<path d="M392 326.9L394.5 351.4L386.6 354L384.9 329.2Z"/>
<path d="M353.5 329.2L351.8 354L343.9 351.4L346.4 326.9Z"/>
<path d="M356.8 380.8L355.9 382.3L343.1 379.9L344.8 378.6Z"/>
<path d="M393.6 378.6L395.3 379.9L382.5 382.3L381.6 380.8Z"/>
<path d="M407.1 376.1L409.7 377.3L397.1 381.4L395.3 379.9Z"/>
<path d="M343.1 379.9L341.3 381.4L328.7 377.3L331.3 376.1Z"/>
<path d="M499.5 379L503.7 379.6L490.3 394.9L486.5 393.9Z"/>
<path d="M251.9 393.9L248.1 394.9L234.7 379.6L238.9 379Z"/>
<path d="M395.7 232.3L399.5 264.6L402.8 268.5L398.6 235.7Z"/>
<path d="M339.8 235.7L335.6 268.5L338.9 264.6L342.7 232.3Z"/>
<path d="M448.7 371.7L452.4 374L440 383.3L436.8 380.6Z"/>
<path d="M301.6 380.6L298.4 383.3L286 374L289.7 371.7Z"/>
<path d="M423.9 372.8L427.1 374.2L414.7 380.4L412.2 378.7Z"/>
<path d="M326.2 378.7L323.7 380.4L311.3 374.2L314.5 372.8Z"/>
<path d="M384.9 329.2L386.6 354L378.1 355.6L377.2 330.6Z"/>
<path d="M361.2 330.6L360.3 355.6L351.8 354L353.5 329.2Z"/>
<path d="M381.6 380.8L382.5 382.3L369.2 383.1L369.2 381.5Z"/>
<path d="M369.2 381.5L369.2 383.1L355.9 382.3L356.8 380.8Z"/>
<path d="M452.4 374L456.2 376.2L443.2 385.9L440 383.3Z"/>
<path d="M298.4 383.3L295.2 385.9L282.2 376.2L286 374Z"/>
<path d="M503.7 379.6L508 380L494.1 395.9L490.3 394.9Z"/>
<path d="M248.1 394.9L244.3 395.9L230.4 380L234.7 379.6Z"/>
<path d="M377.2 330.6L378.1 355.6L369.2 356.1L369.2 331.1Z"/>
<path d="M369.2 331.1L369.2 356.1L360.3 355.6L361.2 330.6Z"/>
<path d="M402.8 285.5L407 315.7L403.3 320L399.5 289.4Z"/>
<path d="M338.9 289.4L335.1 320L331.4 315.7L335.6 285.5Z"/>
<path d="M427.1 374.2L430.3 376L417.2 382.5L414.7 380.4Z"/>
<path d="M323.7 380.4L321.2 382.5L308.1 376L311.3 374.2Z"/>
<path d="M409.7 377.3L412.2 378.7L398.8 383.1L397.1 381.4Z"/>
<path d="M341.3 381.4L339.6 383.1L326.2 378.7L328.7 377.3Z"/>
<path d="M395.3 379.9L397.1 381.4L383.4 383.9L382.5 382.3Z"/>
<path d="M355.9 382.3L355 383.9L341.3 381.4L343.1 379.9Z"/>
<path d="M456.2 376.2L460 378.6L446.4 388.7L443.2 385.9Z"/>
<path d="M295.2 385.9L292 388.7L278.4 378.6L282.2 376.2Z"/>
<path d="M508 380L512.2 380.6L497.9 396.9L494.1 395.9Z"/>
<path d="M244.3 395.9L240.5 396.9L226.2 380.6L230.4 380Z"/>
<path d="M398.6 235.7L402.8 268.5L404.9 272.7L400.4 239.3Z"/>
<path d="M338 239.3L333.5 272.7L335.6 268.5L339.8 235.7Z"/>
<path d="M460 378.6L463.8 381.1L449.7 391.7L446.4 388.7Z"/>
<path d="M292 388.7L288.7 391.7L274.6 381.1L278.4 378.6Z"/>
<path d="M369.2 383.1L369.2 384.8L355 383.9L355.9 382.3Z"/>
<path d="M382.5 382.3L383.4 383.9L369.2 384.8L369.2 383.1Z"/>
<path d="M512.2 380.6L516.4 381.3L501.6 398.2L497.9 396.9Z"/>
<path d="M240.5 396.9L236.8 398.2L222 381.3L226.2 380.6Z"/>
<path d="M430.3 376L433.6 378.1L419.8 385L417.2 382.5Z"/>
<path d="M321.2 382.5L318.6 385L304.8 378.1L308.1 376Z"/>
<path d="M463.8 381.1L467.6 383.7L452.9 394.6L449.7 391.7Z"/>
<path d="M288.7 391.7L285.5 394.6L270.8 383.7L274.6 381.1Z"/>
<path d="M412.2 378.7L414.7 380.4L400.5 385L398.8 383.1Z"/>
<path d="M339.6 383.1L337.9 385L323.7 380.4L326.2 378.7Z"/>
<path d="M397.1 381.4L398.8 383.1L384.3 385.8L383.4 383.9Z"/>
<path d="M355 383.9L354.1 385.8L339.6 383.1L341.3 381.4Z"/>
<path d="M399.5 289.4L403.3 320L398.2 323.8L394.9 292.7Z"/>
<path d="M343.5 292.7L340.2 323.8L335.1 320L338.9 289.4Z"/>
<path d="M516.4 381.3L520.6 382.3L505.4 399.6L501.6 398.2Z"/>
<path d="M236.8 398.2L233 399.6L217.8 382.3L222 381.3Z"/>
<path d="M467.6 383.7L471.4 386.3L456.1 397.7L452.9 394.6Z"/>
<path d="M285.5 394.6L282.3 397.7L267 386.3L270.8 383.7Z"/>
<path d="M433.6 378.1L436.8 380.6L422.3 387.9L419.8 385Z"/>
<path d="M318.6 385L316.1 387.9L301.6 380.6L304.8 378.1Z"/>
<path d="M520.6 382.3L524.8 383.4L509.2 401.2L505.4 399.6Z"/>
<path d="M233 399.6L229.2 401.2L213.6 383.4L217.8 382.3Z"/>
<path d="M471.4 386.3L475.2 388.8L459.3 400.6L456.1 397.7Z"/>
<path d="M282.3 397.7L279.1 400.6L263.2 388.8L267 386.3Z"/>
<path d="M383.4 383.9L384.3 385.8L369.2 386.7L369.2 384.8Z"/>
<path d="M369.2 384.8L369.2 386.7L354.1 385.8L355 383.9Z"/>
<path d="M337.3 243.1L332.8 277L333.5 272.7L338 239.3Z"/>
<path d="M400.4 239.3L404.9 272.7L405.6 277L401.1 243.1Z"/>
<path d="M414.7 380.4L417.2 382.5L402.3 387.4L400.5 385Z"/>
<path d="M337.9 385L336.1 387.4L321.2 382.5L323.7 380.4Z"/>
<path d="M436.8 380.6L440 383.3L424.8 390.9L422.3 387.9Z"/>
<path d="M316.1 387.9L313.6 390.9L298.4 383.3L301.6 380.6Z"/>
<path d="M524.8 383.4L529 384.6L513 402.9L509.2 401.2Z"/>
<path d="M229.2 401.2L225.4 402.9L209.4 384.6L213.6 383.4Z"/>
<path d="M475.2 388.8L478.9 390.9L462.5 403.1L459.3 400.6Z"/>
<path d="M279.1 400.6L275.9 403.1L259.5 390.9L263.2 388.8Z"/>
<path d="M398.8 383.1L400.5 385L385.2 387.9L384.3 385.8Z"/>
<path d="M354.1 385.8L353.2 387.9L337.9 385L339.6 383.1Z"/>
<path d="M394.9 292.7L398.2 323.8L392 326.9L389.4 295.5Z"/>
<path d="M349 295.5L346.4 326.9L340.2 323.8L343.5 292.7Z"/>
<path d="M529 384.6L533.2 386L516.8 404.7L513 402.9Z"/>
<path d="M225.4 402.9L221.6 404.7L205.2 386L209.4 384.6Z"/>
<path d="M440 383.3L443.2 385.9L427.4 393.9L424.8 390.9Z"/>
<path d="M313.6 390.9L311 393.9L295.2 385.9L298.4 383.3Z"/>
<path d="M478.9 390.9L482.7 392.5L465.7 405.2L462.5 403.1Z"/>
<path d="M275.9 403.1L272.7 405.2L255.7 392.5L259.5 390.9Z"/>
<path d="M417.2 382.5L419.8 385L404 390.2L402.3 387.4Z"/>
<path d="M336.1 387.4L334.4 390.2L318.6 385L321.2 382.5Z"/>
<path d="M384.3 385.8L385.2 387.9L369.2 388.9L369.2 386.7Z"/>
<path d="M369.2 386.7L369.2 388.9L353.2 387.9L354.1 385.8Z"/>
<path d="M533.2 386L537.4 387.4L520.6 406.6L516.8 404.7Z"/>
<path d="M221.6 404.7L217.8 406.6L201 387.4L205.2 386Z"/>
<path d="M389.4 295.5L392 326.9L384.9 329.2L383.1 297.6Z"/>
<path d="M355.3 297.6L353.5 329.2L346.4 326.9L349 295.5Z"/>
<path d="M443.2 385.9L446.4 388.7L429.9 397L427.4 393.9Z"/>
<path d="M311 393.9L308.5 397L292 388.7L295.2 385.9Z"/>
<path d="M401.1 243.1L405.6 277L404.9 281.3L400.4 246.9Z"/>
<path d="M338 246.9L333.5 281.3L332.8 277L337.3 243.1Z"/>
<path d="M400.5 385L402.3 387.4L386.1 390.4L385.2 387.9Z"/>
<path d="M353.2 387.9L352.3 390.4L336.1 387.4L337.9 385Z"/>
<path d="M537.4 387.4L541.6 388.8L524.3 408.5L520.6 406.6Z"/>
<path d="M217.8 406.6L214.1 408.5L196.8 388.8L201 387.4Z"/>
<path d="M482.7 392.5L486.5 393.9L469 407L465.7 405.2Z"/>
<path d="M272.7 405.2L269.4 407L251.9 393.9L255.7 392.5Z"/>
<path d="M363.9 191.5L363 224L369.2 223.6L369.2 191.2Z"/>
<path d="M369.2 191.2L369.2 223.6L375.4 224L374.5 191.5Z"/>
<path d="M419.8 385L422.3 387.9L405.8 393.2L404 390.2Z"/>
<path d="M334.4 390.2L332.6 393.2L316.1 387.9L318.6 385Z"/>
<path d="M541.6 388.8L545.8 390.3L528.1 410.5L524.3 408.5Z"/>
<path d="M214.1 408.5L210.3 410.5L192.6 390.3L196.8 388.8Z"/>
<path d="M358.8 192.5L357 225.1L363 224L363.9 191.5Z"/>
<path d="M374.5 191.5L375.4 224L381.4 225.1L379.6 192.5Z"/>
<path d="M446.4 388.7L449.7 391.7L432.4 400.3L429.9 397Z"/>
<path d="M308.5 397L306 400.3L288.7 391.7L292 388.7Z"/>
<path d="M383.1 297.6L384.9 329.2L377.2 330.6L376.3 298.8Z"/>
<path d="M362.1 298.8L361.2 330.6L353.5 329.2L355.3 297.6Z"/>
<path d="M385.2 387.9L386.1 390.4L369.2 391.4L369.2 388.9Z"/>
<path d="M369.2 388.9L369.2 391.4L352.3 390.4L353.2 387.9Z"/>
<path d="M486.5 393.9L490.3 394.9L472.2 408.4L469 407Z"/>
<path d="M269.4 407L266.2 408.4L248.1 394.9L251.9 393.9Z"/>
<path d="M545.8 390.3L550 391.9L531.9 412.5L528.1 410.5Z"/>
<path d="M210.3 410.5L206.5 412.5L188.4 391.9L192.6 390.3Z"/>
<path d="M376.3 298.8L377.2 330.6L369.2 331.1L369.2 299.2Z"/>
<path d="M369.2 299.2L369.2 331.1L361.2 330.6L362.1 298.8Z"/>
<path d="M354 194L351.5 226.9L357 225.1L358.8 192.5Z"/>
<path d="M379.6 192.5L381.4 225.1L386.9 226.9L384.4 194Z"/>
<path d="M402.3 387.4L404 390.2L387 393.3L386.1 390.4Z"/>
<path d="M352.3 390.4L351.4 393.3L334.4 390.2L336.1 387.4Z"/>
<path d="M422.3 387.9L424.8 390.9L407.5 396.5L405.8 393.2Z"/>
<path d="M332.6 393.2L330.9 396.5L313.6 390.9L316.1 387.9Z"/>
<path d="M449.7 391.7L452.9 394.6L434.9 403.6L432.4 400.3Z"/>
<path d="M306 400.3L303.5 403.6L285.5 394.6L288.7 391.7Z"/>
<path d="M550 391.9L554.2 393.4L535.7 414.5L531.9 412.5Z"/>
<path d="M206.5 412.5L202.7 414.5L184.2 393.4L188.4 391.9Z"/>
<path d="M400.4 246.9L404.9 281.3L402.8 285.5L398.6 250.5Z"/>
<path d="M339.8 250.5L335.6 285.5L333.5 281.3L338 246.9Z"/>
<path d="M490.3 394.9L494.1 395.9L475.4 409.8L472.2 408.4Z"/>
<path d="M266.2 408.4L263 409.8L244.3 395.9L248.1 394.9Z"/>
<path d="M554.2 393.4L558.4 394.9L539.5 416.5L535.7 414.5Z"/>
<path d="M202.7 414.5L198.9 416.5L180 394.9L184.2 393.4Z"/>
<path d="M452.9 394.6L456.1 397.7L437.5 407L434.9 403.6Z"/>
<path d="M303.5 403.6L300.9 407L282.3 397.7L285.5 394.6Z"/>
<path d="M349.9 196.1L346.7 229.3L351.5 226.9L354 194Z"/>
<path d="M384.4 194L386.9 226.9L391.7 229.3L388.5 196.1Z"/>
<path d="M386.1 390.4L387 393.3L369.2 394.4L369.2 391.4Z"/>
<path d="M369.2 391.4L369.2 394.4L351.4 393.3L352.3 390.4Z"/>
<path d="M424.8 390.9L427.4 393.9L409.3 399.8L407.5 396.5Z"/>
<path d="M330.9 396.5L329.1 399.8L311 393.9L313.6 390.9Z"/>
<path d="M404 390.2L405.8 393.2L387.8 396.6L387 393.3Z"/>
<path d="M351.4 393.3L350.6 396.6L332.6 393.2L334.4 390.2Z"/>
<path d="M456.1 397.7L459.3 400.6L440 410.2L437.5 407Z"/>
<path d="M300.9 407L298.4 410.2L279.1 400.6L282.3 397.7Z"/>
<path d="M494.1 395.9L497.9 396.9L478.6 411.3L475.4 409.8Z"/>
<path d="M263 409.8L259.8 411.3L240.5 396.9L244.3 395.9Z"/>
<path d="M427.4 393.9L429.9 397L411 403.2L409.3 399.8Z"/>
<path d="M329.1 399.8L327.4 403.2L308.5 397L311 393.9Z"/>
<path d="M346.5 198.6L342.7 232.3L346.7 229.3L349.9 196.1Z"/>
<path d="M388.5 196.1L391.7 229.3L395.7 232.3L391.9 198.6Z"/>
<path d="M387 393.3L387.8 396.6L369.2 397.7L369.2 394.4Z"/>
<path d="M369.2 394.4L369.2 397.7L350.6 396.6L351.4 393.3Z"/>
<path d="M405.8 393.2L407.5 396.5L388.7 400L387.8 396.6Z"/>
<path d="M350.6 396.6L349.7 400L330.9 396.5L332.6 393.2Z"/>
<path d="M398.6 250.5L402.8 285.5L399.5 289.4L395.7 253.9Z"/>
<path d="M342.7 253.9L338.9 289.4L335.6 285.5L339.8 250.5Z"/>
<path d="M459.3 400.6L462.5 403.1L442.5 413.1L440 410.2Z"/>
<path d="M298.4 410.2L295.9 413.1L275.9 403.1L279.1 400.6Z"/>
<path d="M497.9 396.9L501.6 398.2L481.8 412.9L478.6 411.3Z"/>
<path d="M259.8 411.3L256.6 412.9L236.8 398.2L240.5 396.9Z"/>
<path d="M429.9 397L432.4 400.3L412.7 406.7L411 403.2Z"/>
<path d="M327.4 403.2L325.7 406.7L306 400.3L308.5 397Z"/>
<path d="M407.5 396.5L409.3 399.8L389.6 403.4L388.7 400Z"/>
<path d="M349.7 400L348.8 403.4L329.1 399.8L330.9 396.5Z"/>
<path d="M387.8 396.6L388.7 400L369.2 401.2L369.2 397.7Z"/>
<path d="M369.2 397.7L369.2 401.2L349.7 400L350.6 396.6Z"/>
<path d="M462.5 403.1L465.7 405.2L445.1 415.6L442.5 413.1Z"/>
<path d="M295.9 413.1L293.3 415.6L272.7 405.2L275.9 403.1Z"/>
<path d="M391.9 198.6L395.7 232.3L398.6 235.7L394.4 201.5Z"/>
<path d="M344 201.5L339.8 235.7L342.7 232.3L346.5 198.6Z"/>
<path d="M501.6 398.2L505.4 399.6L485 414.8L481.8 412.9Z"/>
<path d="M256.6 412.9L253.4 414.8L233 399.6L236.8 398.2Z"/>
<path d="M432.4 400.3L434.9 403.6L414.5 410.3L412.7 406.7Z"/>
<path d="M325.7 406.7L323.9 410.3L303.5 403.6L306 400.3Z"/>
<path d="M395.7 253.9L399.5 289.4L394.9 292.7L391.7 256.9Z"/>
<path d="M346.7 256.9L343.5 292.7L338.9 289.4L342.7 253.9Z"/>
<path d="M409.3 399.8L411 403.2L390.5 407L389.6 403.4Z"/>
<path d="M348.8 403.4L347.9 407L327.4 403.2L329.1 399.8Z"/>
<path d="M465.7 405.2L469 407L447.6 417.7L445.1 415.6Z"/>
<path d="M293.3 415.6L290.8 417.7L269.4 407L272.7 405.2Z"/>
<path d="M253.4 414.8L250.1 416.8L229.2 401.2L233 399.6Z"/>
<path d="M505.4 399.6L509.2 401.2L488.3 416.8L485 414.8Z"/>
<path d="M388.7 400L389.6 403.4L369.2 404.7L369.2 401.2Z"/>
<path d="M369.2 401.2L369.2 404.7L348.8 403.4L349.7 400Z"/>
<path d="M323.9 410.3L322.2 414L300.9 407L303.5 403.6Z"/>
<path d="M434.9 403.6L437.5 407L416.2 414L414.5 410.3Z"/>
<path d="M394.4 201.5L398.6 235.7L400.4 239.3L396 204.6Z"/>
<path d="M342.4 204.6L338 239.3L339.8 235.7L344 201.5Z"/>
<path d="M509.2 401.2L513 402.9L491.5 418.9L488.3 416.8Z"/>
<path d="M250.1 416.8L246.9 418.9L225.4 402.9L229.2 401.2Z"/>
<path d="M391.7 256.9L394.9 292.7L389.4 295.5L386.9 259.3Z"/>
<path d="M351.5 259.3L349 295.5L343.5 292.7L346.7 256.9Z"/>
<path d="M347.9 407L347 410.7L325.7 406.7L327.4 403.2Z"/>
<path d="M411 403.2L412.7 406.7L391.4 410.7L390.5 407Z"/>
<path d="M469 407L472.2 408.4L450.1 419.5L447.6 417.7Z"/>
<path d="M290.8 417.7L288.3 419.5L266.2 408.4L269.4 407Z"/>
<path d="M389.6 403.4L390.5 407L369.2 408.2L369.2 404.7Z"/>
<path d="M369.2 404.7L369.2 408.2L347.9 407L348.8 403.4Z"/>
<path d="M437.5 407L440 410.2L418 417.4L416.2 414Z"/>
<path d="M322.2 414L320.4 417.4L298.4 410.2L300.9 407Z"/>
<path d="M246.9 418.9L243.7 421.2L221.6 404.7L225.4 402.9Z"/>
<path d="M513 402.9L516.8 404.7L494.7 421.2L491.5 418.9Z"/>
<path d="M412.7 406.7L414.5 410.3L392.3 414.4L391.4 410.7Z"/>
<path d="M347 410.7L346.1 414.4L323.9 410.3L325.7 406.7Z"/>
<path d="M386.9 259.3L389.4 295.5L383.1 297.6L381.4 261.1Z"/>
<path d="M357 261.1L355.3 297.6L349 295.5L351.5 259.3Z"/>
<path d="M440 410.2L442.5 413.1L419.7 420.6L418 417.4Z"/>
<path d="M320.4 417.4L318.7 420.6L295.9 413.1L298.4 410.2Z"/>
<path d="M390.5 407L391.4 410.7L369.2 412L369.2 408.2Z"/>
<path d="M369.2 408.2L369.2 412L347 410.7L347.9 407Z"/>
<path d="M472.2 408.4L475.4 409.8L452.6 421.2L450.1 419.5Z"/>
<path d="M288.3 419.5L285.8 421.2L263 409.8L266.2 408.4Z"/>
<path d="M341.9 207.9L337.3 243.1L338 239.3L342.4 204.6Z"/>
<path d="M396 204.6L400.4 239.3L401.1 243.1L396.5 207.9Z"/>
<path d="M516.8 404.7L520.6 406.6L497.9 423.4L494.7 421.2Z"/>
<path d="M243.7 421.2L240.5 423.4L217.8 406.6L221.6 404.7Z"/>
<path d="M381.4 261.1L383.1 297.6L376.3 298.8L375.4 262.2Z"/>
<path d="M363 262.2L362.1 298.8L355.3 297.6L357 261.1Z"/>
<path d="M414.5 410.3L416.2 414L393.2 418.2L392.3 414.4Z"/>
<path d="M346.1 414.4L345.2 418.2L322.2 414L323.9 410.3Z"/>
<path d="M520.6 406.6L524.3 408.5L501.1 425.8L497.9 423.4Z"/>
<path d="M240.5 423.4L237.3 425.8L214.1 408.5L217.8 406.6Z"/>
<path d="M375.4 262.2L376.3 298.8L369.2 299.2L369.2 262.6Z"/>
<path d="M369.2 262.6L369.2 299.2L362.1 298.8L363 262.2Z"/>
<path d="M442.5 413.1L445.1 415.6L421.4 423.3L419.7 420.6Z"/>
<path d="M318.7 420.6L317 423.3L293.3 415.6L295.9 413.1Z"/>
<path d="M369.2 412L369.2 415.8L346.1 414.4L347 410.7Z"/>
<path d="M391.4 410.7L392.3 414.4L369.2 415.8L369.2 412Z"/>
<path d="M475.4 409.8L478.6 411.3L455.2 423L452.6 421.2Z"/>
<path d="M285.8 421.2L283.2 423L259.8 411.3L263 409.8Z"/>
<path d="M524.3 408.5L528.1 410.5L504.4 428.2L501.1 425.8Z"/>
<path d="M237.3 425.8L234 428.2L210.3 410.5L214.1 408.5Z"/>
<path d="M416.2 414L418 417.4L394.1 421.9L393.2 418.2Z"/>
<path d="M345.2 418.2L344.3 421.9L320.4 417.4L322.2 414Z"/>
<path d="M396.5 207.9L401.1 243.1L400.4 246.9L396 211.2Z"/>
<path d="M342.4 211.2L338 246.9L337.3 243.1L341.9 207.9Z"/>
<path d="M392.3 414.4L393.2 418.2L369.2 419.7L369.2 415.8Z"/>
<path d="M369.2 415.8L369.2 419.7L345.2 418.2L346.1 414.4Z"/>
<path d="M445.1 415.6L447.6 417.7L423.2 425.6L421.4 423.3Z"/>
<path d="M317 423.3L315.2 425.6L290.8 417.7L293.3 415.6Z"/>
<path d="M528.1 410.5L531.9 412.5L507.6 430.6L504.4 428.2Z"/>
<path d="M234 428.2L230.8 430.6L206.5 412.5L210.3 410.5Z"/>
<path d="M478.6 411.3L481.8 412.9L457.7 425L455.2 423Z"/>
<path d="M283.2 423L280.7 425L256.6 412.9L259.8 411.3Z"/>
<path d="M418 417.4L419.7 420.6L394.9 425.2L394.1 421.9Z"/>
<path d="M344.3 421.9L343.5 425.2L318.7 420.6L320.4 417.4Z"/>
<path d="M531.9 412.5L535.7 414.5L510.8 433.1L507.6 430.6Z"/>
<path d="M230.8 430.6L227.6 433.1L202.7 414.5L206.5 412.5Z"/>
<path d="M393.2 418.2L394.1 421.9L369.2 423.4L369.2 419.7Z"/>
<path d="M369.2 419.7L369.2 423.4L344.3 421.9L345.2 418.2Z"/>
<path d="M396 211.2L400.4 246.9L398.6 250.5L394.4 214.3Z"/>
<path d="M344 214.3L339.8 250.5L338 246.9L342.4 211.2Z"/>
<path d="M447.6 417.7L450.1 419.5L424.9 427.7L423.2 425.6Z"/>
<path d="M315.2 425.6L313.5 427.7L288.3 419.5L290.8 417.7Z"/>
<path d="M481.8 412.9L485 414.8L460.2 427.2L457.7 425Z"/>
<path d="M280.7 425L278.2 427.2L253.4 414.8L256.6 412.9Z"/>
<path d="M535.7 414.5L539.5 416.5L514 435.5L510.8 433.1Z"/>
<path d="M227.6 433.1L224.4 435.5L198.9 416.5L202.7 414.5Z"/>
<path d="M364.8 157.9L363.9 191.5L369.2 191.2L369.2 157.6Z"/>
<path d="M369.2 157.6L369.2 191.2L374.5 191.5L373.6 157.9Z"/>
<path d="M419.7 420.6L421.4 423.3L395.8 428L394.9 425.2Z"/>
<path d="M343.5 425.2L342.6 428L317 423.3L318.7 420.6Z"/>
<path d="M360.5 158.7L358.8 192.5L363.9 191.5L364.8 157.9Z"/>
<path d="M373.6 157.9L374.5 191.5L379.6 192.5L377.9 158.7Z"/>
<path d="M394.1 421.9L394.9 425.2L369.2 426.7L369.2 423.4Z"/>
<path d="M369.2 423.4L369.2 426.7L343.5 425.2L344.3 421.9Z"/>
<path d="M485 414.8L488.3 416.8L462.8 429.6L460.2 427.2Z"/>
<path d="M278.2 427.2L275.6 429.6L250.1 416.8L253.4 414.8Z"/>
<path d="M356.6 159.9L354 194L358.8 192.5L360.5 158.7Z"/>
<path d="M377.9 158.7L379.6 192.5L384.4 194L381.8 159.9Z"/>
<path d="M450.1 419.5L452.6 421.2L426.7 429.7L424.9 427.7Z"/>
<path d="M313.5 427.7L311.7 429.7L285.8 421.2L288.3 419.5Z"/>
<path d="M394.4 214.3L398.6 250.5L395.7 253.9L391.9 217.2Z"/>
<path d="M346.5 217.2L342.7 253.9L339.8 250.5L344 214.3Z"/>
<path d="M421.4 423.3L423.2 425.6L396.7 430.5L395.8 428Z"/>
<path d="M342.6 428L341.7 430.5L315.2 425.6L317 423.3Z"/>
<path d="M394.9 425.2L395.8 428L369.2 429.6L369.2 426.7Z"/>
<path d="M369.2 426.7L369.2 429.6L342.6 428L343.5 425.2Z"/>
<path d="M488.3 416.8L491.5 418.9L465.3 432.1L462.8 429.6Z"/>
<path d="M275.6 429.6L273.1 432.1L246.9 418.9L250.1 416.8Z"/>
<path d="M353.1 161.7L349.9 196.1L354 194L356.6 159.9Z"/>
<path d="M381.8 159.9L384.4 194L388.5 196.1L385.3 161.7Z"/>
<path d="M452.6 421.2L455.2 423L428.4 431.7L426.7 429.7Z"/>
<path d="M311.7 429.7L310 431.7L283.2 423L285.8 421.2Z"/>
<path d="M391.9 217.2L395.7 253.9L391.7 256.9L388.5 219.7Z"/>
<path d="M349.9 219.7L346.7 256.9L342.7 253.9L346.5 217.2Z"/>
<path d="M491.5 418.9L494.7 421.2L467.8 434.7L465.3 432.1Z"/>
<path d="M273.1 432.1L270.6 434.7L243.7 421.2L246.9 418.9Z"/>
<path d="M350.3 163.8L346.5 198.6L349.9 196.1L353.1 161.7Z"/>
<path d="M385.3 161.7L388.5 196.1L391.9 198.6L388.1 163.8Z"/>
<path d="M423.2 425.6L424.9 427.7L397.6 432.8L396.7 430.5Z"/>
<path d="M341.7 430.5L340.8 432.8L313.5 427.7L315.2 425.6Z"/>
<path d="M395.8 428L396.7 430.5L369.2 432.2L369.2 429.6Z"/>
<path d="M369.2 429.6L369.2 432.2L341.7 430.5L342.6 428Z"/>
<path d="M455.2 423L457.7 425L430.2 434L428.4 431.7Z"/>
<path d="M310 431.7L308.2 434L280.7 425L283.2 423Z"/>
<path d="M494.7 421.2L497.9 423.4L470.3 437.3L467.8 434.7Z"/>
<path d="M270.6 434.7L268.1 437.3L240.5 423.4L243.7 421.2Z"/>
<path d="M388.5 219.7L391.7 256.9L386.9 259.3L384.4 221.8Z"/>
<path d="M354 221.8L351.5 259.3L346.7 256.9L349.9 219.7Z"/>
<path d="M388.1 163.8L391.9 198.6L394.4 201.5L390.2 166.2Z"/>
<path d="M348.2 166.2L344 201.5L346.5 198.6L350.3 163.8Z"/>
<path d="M424.9 427.7L426.7 429.7L398.5 434.9L397.6 432.8Z"/>
<path d="M340.8 432.8L339.9 434.9L311.7 429.7L313.5 427.7Z"/>
<path d="M369.2 432.2L369.2 434.5L340.8 432.8L341.7 430.5Z"/>
<path d="M396.7 430.5L397.6 432.8L369.2 434.5L369.2 432.2Z"/>
<path d="M497.9 423.4L501.1 425.8L472.9 440L470.3 437.3Z"/>
<path d="M268.1 437.3L265.5 440L237.3 425.8L240.5 423.4Z"/>
<path d="M384.4 221.8L386.9 259.3L381.4 261.1L379.6 223.3Z"/>
<path d="M358.8 223.3L357 261.1L351.5 259.3L354 221.8Z"/>
<path d="M457.7 425L460.2 427.2L431.9 436.5L430.2 434Z"/>
<path d="M308.2 434L306.5 436.5L278.2 427.2L280.7 425Z"/>
<path d="M346.9 168.8L342.4 204.6L344 201.5L348.2 166.2Z"/>
<path d="M390.2 166.2L394.4 201.5L396 204.6L391.5 168.8Z"/>
<path d="M379.6 223.3L381.4 261.1L375.4 262.2L374.5 224.3Z"/>
<path d="M363.9 224.3L363 262.2L357 261.1L358.8 223.3Z"/>
<path d="M501.1 425.8L504.4 428.2L475.4 442.7L472.9 440Z"/>
<path d="M265.5 440L263 442.7L234 428.2L237.3 425.8Z"/>
<path d="M426.7 429.7L428.4 431.7L399.4 437.1L398.5 434.9Z"/>
<path d="M339.9 434.9L339 437.1L310 431.7L311.7 429.7Z"/>
<path d="M374.5 224.3L375.4 262.2L369.2 262.6L369.2 224.6Z"/>
<path d="M369.2 224.6L369.2 262.6L363 262.2L363.9 224.3Z"/>
<path d="M397.6 432.8L398.5 434.9L369.2 436.7L369.2 434.5Z"/>
<path d="M369.2 434.5L369.2 436.7L339.9 434.9L340.8 432.8Z"/>
<path d="M460.2 427.2L462.8 429.6L433.6 439.1L431.9 436.5Z"/>
<path d="M306.5 436.5L304.8 439.1L275.6 429.6L278.2 427.2Z"/>
<path d="M504.4 428.2L507.6 430.6L477.9 445.5L475.4 442.7Z"/>
<path d="M263 442.7L260.5 445.5L230.8 430.6L234 428.2Z"/>
<path d="M346.4 171.5L341.9 207.9L342.4 204.6L346.9 168.8Z"/>
<path d="M391.5 168.8L396 204.6L396.5 207.9L392 171.5Z"/>
<path d="M339 437.1L338.1 439.6L308.2 434L310 431.7Z"/>
<path d="M428.4 431.7L430.2 434L400.3 439.6L399.4 437.1Z"/>
<path d="M462.8 429.6L465.3 432.1L435.4 441.8L433.6 439.1Z"/>
<path d="M304.8 439.1L303 441.8L273.1 432.1L275.6 429.6Z"/>
<path d="M507.6 430.6L510.8 433.1L480.4 448.3L477.9 445.5Z"/>
<path d="M260.5 445.5L258 448.3L227.6 433.1L230.8 430.6Z"/>
<path d="M369.2 436.7L369.2 438.9L339 437.1L339.9 434.9Z"/>
<path d="M398.5 434.9L399.4 437.1L369.2 438.9L369.2 436.7Z"/>
<path d="M392 171.5L396.5 207.9L396 211.2L391.5 174.2Z"/>
<path d="M346.9 174.2L342.4 211.2L341.9 207.9L346.4 171.5Z"/>
<path d="M510.8 433.1L514 435.5L483 451L480.4 448.3Z"/>
<path d="M258 448.3L255.4 451L224.4 435.5L227.6 433.1Z"/>
<path d="M465.3 432.1L467.8 434.7L437.1 444.7L435.4 441.8Z"/>
<path d="M303 441.8L301.3 444.7L270.6 434.7L273.1 432.1Z"/>
<path d="M430.2 434L431.9 436.5L401.2 442.2L400.3 439.6Z"/>
<path d="M338.1 439.6L337.2 442.2L306.5 436.5L308.2 434Z"/>
<path d="M369.2 438.9L369.2 441.4L338.1 439.6L339 437.1Z"/>
<path d="M399.4 437.1L400.3 439.6L369.2 441.4L369.2 438.9Z"/>
<path d="M467.8 434.7L470.3 437.3L438.9 447.6L437.1 444.7Z"/>
<path d="M301.3 444.7L299.5 447.6L268.1 437.3L270.6 434.7Z"/>
<path d="M391.5 174.2L396 211.2L394.4 214.3L390.2 176.8Z"/>
<path d="M348.2 176.8L344 214.3L342.4 211.2L346.9 174.2Z"/>
<path d="M431.9 436.5L433.6 439.1L402.1 445L401.2 442.2Z"/>
<path d="M337.2 442.2L336.3 445L304.8 439.1L306.5 436.5Z"/>
<path d="M369.2 441.4L369.2 444.1L337.2 442.2L338.1 439.6Z"/>
<path d="M400.3 439.6L401.2 442.2L369.2 444.1L369.2 441.4Z"/>
<path d="M470.3 437.3L472.9 440L440.6 450.5L438.9 447.6Z"/>
<path d="M299.5 447.6L297.8 450.5L265.5 440L268.1 437.3Z"/>
<path d="M390.2 176.8L394.4 214.3L391.9 217.2L388.1 179.2Z"/>
<path d="M350.3 179.2L346.5 217.2L344 214.3L348.2 176.8Z"/>
<path d="M433.6 439.1L435.4 441.8L402.9 447.8L402.1 445Z"/>
<path d="M336.3 445L335.5 447.8L303 441.8L304.8 439.1Z"/>
<path d="M472.9 440L475.4 442.7L442.3 453.5L440.6 450.5Z"/>
<path d="M297.8 450.5L296.1 453.5L263 442.7L265.5 440Z"/>
<path d="M365.6 126.7L364.8 157.9L369.2 157.6L369.2 126.5Z"/>
<path d="M369.2 126.5L369.2 157.6L373.6 157.9L372.8 126.7Z"/>
<path d="M401.2 442.2L402.1 445L369.2 446.9L369.2 444.1Z"/>
<path d="M369.2 444.1L369.2 446.9L336.3 445L337.2 442.2Z"/>
<path d="M362.2 127.3L360.5 158.7L364.8 157.9L365.6 126.7Z"/>
<path d="M372.8 126.7L373.6 157.9L377.9 158.7L376.2 127.3Z"/>
<path d="M388.1 179.2L391.9 217.2L388.5 219.7L385.3 181.3Z"/>
<path d="M353.1 181.3L349.9 219.7L346.5 217.2L350.3 179.2Z"/>
<path d="M435.4 441.8L437.1 444.7L403.8 450.9L402.9 447.8Z"/>
<path d="M335.5 447.8L334.6 450.9L301.3 444.7L303 441.8Z"/>
<path d="M359.1 128.4L356.6 159.9L360.5 158.7L362.2 127.3Z"/>
<path d="M376.2 127.3L377.9 158.7L381.8 159.9L379.3 128.4Z"/>
<path d="M475.4 442.7L477.9 445.5L444.1 456.6L442.3 453.5Z"/>
<path d="M296.1 453.5L294.3 456.6L260.5 445.5L263 442.7Z"/>
<path d="M369.2 446.9L369.2 449.9L335.5 447.8L336.3 445Z"/>
<path d="M402.1 445L402.9 447.8L369.2 449.9L369.2 446.9Z"/>
<path d="M356.3 129.7L353.1 161.7L356.6 159.9L359.1 128.4Z"/>
<path d="M379.3 128.4L381.8 159.9L385.3 161.7L382.1 129.7Z"/>
<path d="M385.3 181.3L388.5 219.7L384.4 221.8L381.8 183.1Z"/>
<path d="M356.6 183.1L354 221.8L349.9 219.7L353.1 181.3Z"/>
<path d="M437.1 444.7L438.9 447.6L404.7 453.9L403.8 450.9Z"/>
<path d="M334.6 450.9L333.7 453.9L299.5 447.6L301.3 444.7Z"/>
<path d="M477.9 445.5L480.4 448.3L445.8 459.6L444.1 456.6Z"/>
<path d="M294.3 456.6L292.6 459.6L258 448.3L260.5 445.5Z"/>
<path d="M382.1 129.7L385.3 161.7L388.1 163.8L384.3 131.4Z"/>
<path d="M354.1 131.4L350.3 163.8L353.1 161.7L356.3 129.7Z"/>
<path d="M381.8 183.1L384.4 221.8L379.6 223.3L377.9 184.3Z"/>
<path d="M360.5 184.3L358.8 223.3L354 221.8L356.6 183.1Z"/>
<path d="M402.9 447.8L403.8 450.9L369.2 452.9L369.2 449.9Z"/>
<path d="M369.2 449.9L369.2 452.9L334.6 450.9L335.5 447.8Z"/>
<path d="M377.9 184.3L379.6 223.3L374.5 224.3L373.6 185.1Z"/>
<path d="M364.8 185.1L363.9 224.3L358.8 223.3L360.5 184.3Z"/>
<path d="M438.9 447.6L440.6 450.5L405.6 457L404.7 453.9Z"/>
<path d="M333.7 453.9L332.8 457L297.8 450.5L299.5 447.6Z"/>
<path d="M480.4 448.3L483 451L447.6 462.6L445.8 459.6Z"/>
<path d="M292.6 459.6L290.8 462.6L255.4 451L258 448.3Z"/>
<path d="M352.4 133.3L348.2 166.2L350.3 163.8L354.1 131.4Z"/>
<path d="M384.3 131.4L388.1 163.8L390.2 166.2L386 133.3Z"/>
<path d="M373.6 185.1L374.5 224.3L369.2 224.6L369.2 185.4Z"/>
<path d="M369.2 185.4L369.2 224.6L363.9 224.3L364.8 185.1Z"/>
<path d="M403.8 450.9L404.7 453.9L369.2 456L369.2 452.9Z"/>
<path d="M369.2 452.9L369.2 456L333.7 453.9L334.6 450.9Z"/>
<path d="M440.6 450.5L442.3 453.5L406.5 460.1L405.6 457Z"/>
<path d="M332.8 457L331.9 460.1L296.1 453.5L297.8 450.5Z"/>
<path d="M351.3 135.4L346.9 168.8L348.2 166.2L352.4 133.3Z"/>
<path d="M386 133.3L390.2 166.2L391.5 168.8L387.1 135.4Z"/>
<path d="M404.7 453.9L405.6 457L369.2 459.2L369.2 456Z"/>
<path d="M369.2 456L369.2 459.2L332.8 457L333.7 453.9Z"/>
<path d="M442.3 453.5L444.1 456.6L407.4 463.4L406.5 460.1Z"/>
<path d="M331.9 460.1L331 463.4L294.3 456.6L296.1 453.5Z"/>
<path d="M351 137.6L346.4 171.5L346.9 168.8L351.3 135.4Z"/>
<path d="M387.1 135.4L391.5 168.8L392 171.5L387.4 137.6Z"/>
<path d="M405.6 457L406.5 460.1L369.2 462.4L369.2 459.2Z"/>
<path d="M369.2 459.2L369.2 462.4L331.9 460.1L332.8 457Z"/>
<path d="M444.1 456.6L445.8 459.6L408.3 466.5L407.4 463.4Z"/>
<path d="M331 463.4L330.1 466.5L292.6 459.6L294.3 456.6Z"/>
<path d="M387.4 137.6L392 171.5L391.5 174.2L387.1 139.8Z"/>
<path d="M351.3 139.8L346.9 174.2L346.4 171.5L351 137.6Z"/>
<path d="M369.2 462.4L369.2 465.7L331 463.4L331.9 460.1Z"/>
<path d="M406.5 460.1L407.4 463.4L369.2 465.7L369.2 462.4Z"/>
<path d="M445.8 459.6L447.6 462.6L409.2 469.7L408.3 466.5Z"/>
<path d="M330.1 466.5L329.2 469.7L290.8 462.6L292.6 459.6Z"/>
<path d="M387.1 139.8L391.5 174.2L390.2 176.8L386 141.9Z"/>
<path d="M352.4 141.9L348.2 176.8L346.9 174.2L351.3 139.8Z"/>
<path d="M407.4 463.4L408.3 466.5L369.2 468.9L369.2 465.7Z"/>
<path d="M369.2 465.7L369.2 468.9L330.1 466.5L331 463.4Z"/>
<path d="M386 141.9L390.2 176.8L388.1 179.2L384.3 143.8Z"/>
<path d="M354.1 143.8L350.3 179.2L348.2 176.8L352.4 141.9Z"/>
<path d="M384.3 143.8L388.1 179.2L385.3 181.3L382.1 145.5Z"/>
<path d="M356.3 145.5L353.1 181.3L350.3 179.2L354.1 143.8Z"/>
<path d="M408.3 466.5L409.2 469.7L369.2 472.1L369.2 468.9Z"/>
<path d="M369.2 468.9L369.2 472.1L329.2 469.7L330.1 466.5Z"/>
<path d="M382.1 145.5L385.3 181.3L381.8 183.1L379.3 146.8Z"/>
<path d="M359.1 146.8L356.6 183.1L353.1 181.3L356.3 145.5Z"/>
<path d="M366.5 98.4L365.6 126.7L369.2 126.5L369.2 98.3Z"/>
<path d="M369.2 98.3L369.2 126.5L372.8 126.7L371.9 98.4Z"/>
<path d="M364 98.9L362.2 127.3L365.6 126.7L366.5 98.4Z"/>
<path d="M371.9 98.4L372.8 126.7L376.2 127.3L374.4 98.9Z"/>
<path d="M374.4 98.9L376.2 127.3L379.3 128.4L376.8 99.7Z"/>
<path d="M361.6 99.7L359.1 128.4L362.2 127.3L364 98.9Z"/>
<path d="M362.2 147.9L360.5 184.3L356.6 183.1L359.1 146.8Z"/>
<path d="M379.3 146.8L381.8 183.1L377.9 184.3L376.2 147.9Z"/>
<path d="M376.8 99.7L379.3 128.4L382.1 129.7L378.9 100.7Z"/>
<path d="M359.5 100.7L356.3 129.7L359.1 128.4L361.6 99.7Z"/>
<path d="M376.2 147.9L377.9 184.3L373.6 185.1L372.8 148.5Z"/>
<path d="M365.6 148.5L364.8 185.1L360.5 184.3L362.2 147.9Z"/>
<path d="M372.8 148.5L373.6 185.1L369.2 185.4L369.2 148.7Z"/>
<path d="M369.2 148.7L369.2 185.4L364.8 185.1L365.6 148.5Z"/>
<path d="M357.8 102L354.1 131.4L356.3 129.7L359.5 100.7Z"/>
<path d="M378.9 100.7L382.1 129.7L384.3 131.4L380.6 102Z"/>
<path d="M356.6 103.4L352.4 133.3L354.1 131.4L357.8 102Z"/>
<path d="M380.6 102L384.3 131.4L386 133.3L381.8 103.4Z"/>
<path d="M355.8 105L351.3 135.4L352.4 133.3L356.6 103.4Z"/>
<path d="M381.8 103.4L386 133.3L387.1 135.4L382.6 105Z"/>
<path d="M355.5 106.6L351 137.6L351.3 135.4L355.8 105Z"/>
<path d="M382.6 105L387.1 135.4L387.4 137.6L382.9 106.6Z"/>
<path d="M382.9 106.6L387.4 137.6L387.1 139.8L382.6 108.2Z"/>
<path d="M355.8 108.2L351.3 139.8L351 137.6L355.5 106.6Z"/>
<path d="M382.6 108.2L387.1 139.8L386 141.9L381.8 109.8Z"/>
<path d="M356.6 109.8L352.4 141.9L351.3 139.8L355.8 108.2Z"/>
<path d="M381.8 109.8L386 141.9L384.3 143.8L380.6 111.2Z"/>
<path d="M357.8 111.2L354.1 143.8L352.4 141.9L356.6 109.8Z"/>
<path d="M380.6 111.2L384.3 143.8L382.1 145.5L378.9 112.5Z"/>
<path d="M359.5 112.5L356.3 145.5L354.1 143.8L357.8 111.2Z"/>
<path d="M378.9 112.5L382.1 145.5L379.3 146.8L376.8 113.5Z"/>
<path d="M361.6 113.5L359.1 146.8L356.3 145.5L359.5 112.5Z"/>
<path d="M364 114.3L362.2 147.9L359.1 146.8L361.6 113.5Z"/>
<path d="M376.8 113.5L379.3 146.8L376.2 147.9L374.4 114.3Z"/>
<path d="M374.4 114.3L376.2 147.9L372.8 148.5L371.9 114.8Z"/>
<path d="M366.5 114.8L365.6 148.5L362.2 147.9L364 114.3Z"/>
<path d="M367.4 77.6L366.5 98.4L369.2 98.3L369.2 77.5Z"/>
<path d="M369.2 77.5L369.2 98.3L371.9 98.4L371 77.6Z"/>
<path d="M365.7 78L364 98.9L366.5 98.4L367.4 77.6Z"/>
<path d="M371 77.6L371.9 98.4L374.4 98.9L372.7 78Z"/>
<path d="M371.9 114.8L372.8 148.5L369.2 148.7L369.2 114.9Z"/>
<path d="M369.2 114.9L369.2 148.7L365.6 148.5L366.5 114.8Z"/>
<path d="M372.7 78L374.4 98.9L376.8 99.7L374.3 78.5Z"/>
<path d="M364.1 78.5L361.6 99.7L364 98.9L365.7 78Z"/>
<path d="M374.3 78.5L376.8 99.7L378.9 100.7L375.6 79.2Z"/>
<path d="M362.8 79.2L359.5 100.7L361.6 99.7L364.1 78.5Z"/>
<path d="M361.6 80L357.8 102L359.5 100.7L362.8 79.2Z"/>
<path d="M375.6 79.2L378.9 100.7L380.6 102L376.8 80Z"/>
<path d="M360.8 81L356.6 103.4L357.8 102L361.6 80Z"/>
<path d="M376.8 80L380.6 102L381.8 103.4L377.6 81Z"/>
<path d="M360.3 82L355.8 105L356.6 103.4L360.8 81Z"/>
<path d="M377.6 81L381.8 103.4L382.6 105L378.1 82Z"/>
<path d="M360.1 83.1L355.5 106.6L355.8 105L360.3 82Z"/>
<path d="M378.1 82L382.6 105L382.9 106.6L378.3 83.1Z"/>
<path d="M378.3 83.1L382.9 106.6L382.6 108.2L378.1 84.2Z"/>
<path d="M360.3 84.2L355.8 108.2L355.5 106.6L360.1 83.1Z"/>
<path d="M378.1 84.2L382.6 108.2L381.8 109.8L377.6 85.2Z"/>
<path d="M360.8 85.2L356.6 109.8L355.8 108.2L360.3 84.2Z"/>
<path d="M361.6 86.2L357.8 111.2L356.6 109.8L360.8 85.2Z"/>
<path d="M377.6 85.2L381.8 109.8L380.6 111.2L376.8 86.2Z"/>
<path d="M376.8 86.2L380.6 111.2L378.9 112.5L375.6 87Z"/>
<path d="M362.8 87L359.5 112.5L357.8 111.2L361.6 86.2Z"/>
<path d="M375.6 87L378.9 112.5L376.8 113.5L374.3 87.7Z"/>
<path d="M364.1 87.7L361.6 113.5L359.5 112.5L362.8 87Z"/>
<path d="M374.3 87.7L376.8 113.5L374.4 114.3L372.7 88.2Z"/>
<path d="M365.7 88.2L364 114.3L361.6 113.5L364.1 87.7Z"/>
<path d="M372.7 88.2L374.4 114.3L371.9 114.8L371 88.6Z"/>
<path d="M367.4 88.6L366.5 114.8L364 114.3L365.7 88.2Z"/>
<path d="M368.3 67.3L367.4 77.6L369.2 77.5L369.2 67.2Z"/>
<path d="M369.2 67.2L369.2 77.5L371 77.6L370.1 67.3Z"/>
<path d="M371 88.6L371.9 114.8L369.2 114.9L369.2 88.7Z"/>
<path d="M369.2 88.7L369.2 114.9L366.5 114.8L367.4 88.6Z"/>
<path d="M367.5 67.4L365.7 78L367.4 77.6L368.3 67.3Z"/>
<path d="M370.1 67.3L371 77.6L372.7 78L370.9 67.4Z"/>
<path d="M370.9 67.4L372.7 78L374.3 78.5L371.7 67.7Z"/>
<path d="M366.7 67.7L364.1 78.5L365.7 78L367.5 67.4Z"/>
<path d="M366 68L362.8 79.2L364.1 78.5L366.7 67.7Z"/>
<path d="M371.7 67.7L374.3 78.5L375.6 79.2L372.4 68Z"/>
<path d="M365.4 68.5L361.6 80L362.8 79.2L366 68Z"/>
<path d="M372.4 68L375.6 79.2L376.8 80L373 68.5Z"/>
<path d="M365 68.9L360.8 81L361.6 80L365.4 68.5Z"/>
<path d="M373 68.5L376.8 80L377.6 81L373.4 68.9Z"/>
<path d="M373.4 68.9L377.6 81L378.1 82L373.7 69.5Z"/>
<path d="M364.7 69.5L360.3 82L360.8 81L365 68.9Z"/>
<path d="M364.6 70L360.1 83.1L360.3 82L364.7 69.5Z"/>
<path d="M373.7 69.5L378.1 82L378.3 83.1L373.8 70Z"/>
<path d="M373.8 70L378.3 83.1L378.1 84.2L373.7 70.5Z"/>
<path d="M364.7 70.5L360.3 84.2L360.1 83.1L364.6 70Z"/>
<path d="M365 71.1L360.8 85.2L360.3 84.2L364.7 70.5Z"/>
<path d="M373.7 70.5L378.1 84.2L377.6 85.2L373.4 71.1Z"/>
<path d="M373.4 71.1L377.6 85.2L376.8 86.2L373 71.5Z"/>
<path d="M365.4 71.5L361.6 86.2L360.8 85.2L365 71.1Z"/>
<path d="M373 71.5L376.8 86.2L375.6 87L372.4 72Z"/>
<path d="M366 72L362.8 87L361.6 86.2L365.4 71.5Z"/>
<path d="M372.4 72L375.6 87L374.3 87.7L371.7 72.3Z"/>
<path d="M366.7 72.3L364.1 87.7L362.8 87L366 72Z"/>
<path d="M369.2 63.7L368.3 67.3L369.2 67.2Z"/>
<path d="M369.2 63.7L369.2 67.2L370.1 67.3Z"/>
<path d="M369.2 63.7L367.5 67.4L368.3 67.3Z"/>
<path d="M369.2 63.7L370.1 67.3L370.9 67.4Z"/>
<path d="M369.2 63.7L366.7 67.7L367.5 67.4Z"/>
<path d="M369.2 63.7L370.9 67.4L371.7 67.7Z"/>
<path d="M367.5 72.6L365.7 88.2L364.1 87.7L366.7 72.3Z"/>
<path d="M371.7 72.3L374.3 87.7L372.7 88.2L370.9 72.6Z"/>
<path d="M369.2 63.7L366 68L366.7 67.7Z"/>
<path d="M369.2 63.7L371.7 67.7L372.4 68Z"/>
<path d="M370.9 72.6L372.7 88.2L371 88.6L370.1 72.7Z"/>
<path d="M368.3 72.7L367.4 88.6L365.7 88.2L367.5 72.6Z"/>
<path d="M369.2 63.7L365.4 68.5L366 68Z"/>
<path d="M369.2 63.7L372.4 68L373 68.5Z"/>
<path d="M369.2 72.8L369.2 88.7L367.4 88.6L368.3 72.7Z"/>
<path d="M370.1 72.7L371 88.6L369.2 88.7L369.2 72.8Z"/>
<path d="M369.2 63.7L365 68.9L365.4 68.5Z"/>
<path d="M369.2 63.7L373 68.5L373.4 68.9Z"/>
<path d="M369.2 63.7L364.7 69.5L365 68.9Z"/>
<path d="M369.2 63.7L373.4 68.9L373.7 69.5Z"/>
<path d="M369.2 63.7L373.7 69.5L373.8 70Z"/>
<path d="M369.2 63.7L364.6 70L364.7 69.5Z"/>
<path d="M369.2 63.7L373.8 70L373.7 70.5Z"/>
<path d="M369.2 63.7L364.7 70.5L364.6 70Z"/>
<path d="M369.2 63.7L373.7 70.5L373.4 71.1Z"/>
<path d="M369.2 63.7L365 71.1L364.7 70.5Z"/>
<path d="M369.2 63.7L373.4 71.1L373 71.5Z"/>
<path d="M369.2 63.7L365.4 71.5L365 71.1Z"/>
<path d="M369.2 63.7L366 72L365.4 71.5Z"/>
<path d="M369.2 63.7L373 71.5L372.4 72Z"/>
<path d="M369.2 63.7L372.4 72L371.7 72.3Z"/>
<path d="M369.2 63.7L366.7 72.3L366 72Z"/>
<path d="M369.2 63.7L371.7 72.3L370.9 72.6Z"/>
<path d="M369.2 63.7L367.5 72.6L366.7 72.3Z"/>
<path d="M369.2 63.7L370.9 72.6L370.1 72.7Z"/>
<path d="M369.2 63.7L368.3 72.7L367.5 72.6Z"/>
<path d="M369.2 63.7L370.1 72.7L369.2 72.8Z"/>
<path d="M369.2 63.7L369.2 72.8L368.3 72.7Z"/>
</g>
<line x1="369.25" y1="348.3" x2="369.25" y2="45" stroke="#1a80c2" stroke-width="2.6"/>
<path d="M369.5 28.8L378.9 51.6L369.4 46.9L360.0 51.6Z" fill="#1a80c2"/>
<line x1="370.6" y1="347.0" x2="588" y2="347.0" stroke="#e2001a" stroke-width="2.5"/>
<path d="M603.8 347.1L581.1 337.9L586.2 347.1L581.1 356.3Z" fill="#e2001a"/>
<clipPath id="pc"><rect x="769.30" y="199.40" width="330.20" height="189.20"/></clipPath>
<g stroke="#2a2a2a" stroke-width="0.8" fill="none">
<line x1="771.30" y1="387.80" x2="771.30" y2="199.00"/>
<line x1="825.67" y1="387.80" x2="825.67" y2="199.00"/>
<line x1="880.03" y1="387.80" x2="880.03" y2="199.00"/>
<line x1="934.40" y1="387.80" x2="934.40" y2="199.00"/>
<line x1="988.77" y1="387.80" x2="988.77" y2="199.00"/>
<line x1="1043.13" y1="387.80" x2="1043.13" y2="199.00"/>
<line x1="1097.50" y1="387.80" x2="1097.50" y2="199.00"/>
<line x1="771.30" y1="387.40" x2="1097.50" y2="387.40"/>
<line x1="771.30" y1="293.40" x2="1097.50" y2="293.40"/>
<line x1="771.30" y1="199.40" x2="1097.50" y2="199.40"/>
</g>
<g clip-path="url(#pc)" fill="none">
<g fill="#3d5aa8"><circle cx="773.3" cy="387.2" r="1.05"/><circle cx="778.0" cy="385.2" r="1.05"/><circle cx="782.0" cy="382.0" r="1.05"/><circle cx="785.5" cy="378.4" r="1.05"/><circle cx="788.9" cy="374.6" r="1.05"/><circle cx="792.5" cy="370.9" r="1.05"/><circle cx="796.6" cy="367.9" r="1.05"/><circle cx="801.5" cy="366.8" r="1.05"/><circle cx="806.1" cy="368.7" r="1.05"/><circle cx="809.8" cy="372.2" r="1.05"/><circle cx="813.1" cy="376.2" r="1.05"/><circle cx="816.2" cy="380.1" r="1.05"/><circle cx="819.6" cy="384.0" r="1.05"/><circle cx="823.7" cy="387.0" r="1.05"/><circle cx="828.5" cy="386.5" r="1.05"/><circle cx="832.0" cy="382.8" r="1.05"/><circle cx="834.5" cy="378.4" r="1.05"/><circle cx="836.6" cy="373.7" r="1.05"/><circle cx="838.4" cy="368.9" r="1.05"/><circle cx="840.1" cy="364.2" r="1.05"/><circle cx="841.8" cy="359.3" r="1.05"/><circle cx="843.3" cy="354.5" r="1.05"/><circle cx="845.0" cy="349.6" r="1.05"/><circle cx="846.6" cy="344.8" r="1.05"/><circle cx="848.4" cy="340.0" r="1.05"/><circle cx="850.3" cy="335.4" r="1.05"/><circle cx="852.9" cy="330.9" r="1.05"/><circle cx="857.0" cy="328.3" r="1.05"/><circle cx="860.7" cy="331.5" r="1.05"/><circle cx="862.9" cy="336.1" r="1.05"/><circle cx="864.6" cy="340.9" r="1.05"/><circle cx="866.2" cy="345.8" r="1.05"/><circle cx="867.5" cy="350.7" r="1.05"/><circle cx="868.8" cy="355.7" r="1.05"/><circle cx="870.1" cy="360.6" r="1.05"/><circle cx="871.3" cy="365.5" r="1.05"/><circle cx="872.6" cy="370.5" r="1.05"/><circle cx="874.0" cy="375.4" r="1.05"/><circle cx="875.5" cy="380.2" r="1.05"/><circle cx="877.5" cy="385.0" r="1.05"/><circle cx="881.2" cy="386.8" r="1.05"/><circle cx="883.3" cy="382.0" r="1.05"/><circle cx="884.4" cy="377.1" r="1.05"/><circle cx="885.3" cy="372.0" r="1.05"/><circle cx="886.0" cy="367.0" r="1.05"/><circle cx="886.7" cy="361.6" r="1.05"/><circle cx="887.2" cy="356.5" r="1.05"/><circle cx="887.7" cy="351.4" r="1.05"/><circle cx="888.1" cy="346.5" r="1.05"/><circle cx="888.6" cy="341.2" r="1.05"/><circle cx="888.9" cy="336.3" r="1.05"/><circle cx="889.3" cy="331.1" r="1.05"/><circle cx="889.7" cy="326.3" r="1.05"/><circle cx="890.0" cy="321.4" r="1.05"/><circle cx="890.3" cy="316.2" r="1.05"/><circle cx="890.6" cy="310.7" r="1.05"/><circle cx="890.9" cy="306.0" r="1.05"/><circle cx="891.2" cy="300.1" r="1.05"/><circle cx="891.5" cy="295.0" r="1.05"/><circle cx="891.8" cy="289.8" r="1.05"/><circle cx="892.0" cy="285.5" r="1.05"/><circle cx="892.3" cy="279.9" r="1.05"/><circle cx="892.5" cy="275.3" r="1.05"/><circle cx="892.8" cy="269.4" r="1.05"/><circle cx="893.0" cy="264.6" r="1.05"/><circle cx="893.2" cy="259.7" r="1.05"/><circle cx="893.4" cy="254.6" r="1.05"/><circle cx="893.6" cy="249.5" r="1.05"/><circle cx="893.8" cy="244.2" r="1.05"/><circle cx="894.1" cy="238.8" r="1.05"/><circle cx="894.2" cy="234.7" r="1.05"/><circle cx="894.4" cy="229.1" r="1.05"/><circle cx="894.7" cy="223.5" r="1.05"/><circle cx="894.8" cy="219.1" r="1.05"/><circle cx="895.0" cy="213.2" r="1.05"/><circle cx="895.2" cy="208.8" r="1.05"/><circle cx="895.4" cy="202.7" r="1.05"/><circle cx="973.4" cy="202.7" r="1.05"/><circle cx="973.5" cy="207.3" r="1.05"/><circle cx="973.7" cy="211.8" r="1.05"/><circle cx="973.9" cy="217.7" r="1.05"/><circle cx="974.1" cy="222.0" r="1.05"/><circle cx="974.3" cy="227.7" r="1.05"/><circle cx="974.5" cy="233.3" r="1.05"/><circle cx="974.7" cy="237.5" r="1.05"/><circle cx="974.9" cy="242.9" r="1.05"/><circle cx="975.1" cy="248.2" r="1.05"/><circle cx="975.3" cy="253.4" r="1.05"/><circle cx="975.6" cy="258.4" r="1.05"/><circle cx="975.8" cy="263.4" r="1.05"/><circle cx="976.0" cy="268.2" r="1.05"/><circle cx="976.2" cy="273.0" r="1.05"/><circle cx="976.5" cy="278.8" r="1.05"/><circle cx="976.7" cy="283.2" r="1.05"/><circle cx="977.0" cy="288.7" r="1.05"/><circle cx="977.2" cy="294.0" r="1.05"/><circle cx="977.5" cy="299.1" r="1.05"/><circle cx="977.8" cy="304.1" r="1.05"/><circle cx="978.1" cy="308.8" r="1.05"/><circle cx="978.3" cy="313.5" r="1.05"/><circle cx="978.7" cy="318.8" r="1.05"/><circle cx="979.0" cy="323.9" r="1.05"/><circle cx="979.4" cy="329.5" r="1.05"/><circle cx="979.7" cy="334.1" r="1.05"/><circle cx="980.1" cy="339.2" r="1.05"/><circle cx="980.5" cy="344.6" r="1.05"/><circle cx="980.9" cy="349.6" r="1.05"/><circle cx="981.4" cy="354.3" r="1.05"/><circle cx="981.9" cy="359.6" r="1.05"/><circle cx="982.5" cy="364.4" r="1.05"/><circle cx="983.1" cy="369.4" r="1.05"/><circle cx="983.9" cy="374.4" r="1.05"/><circle cx="984.9" cy="379.4" r="1.05"/><circle cx="986.3" cy="384.4" r="1.05"/><circle cx="989.6" cy="387.1" r="1.05"/><circle cx="992.3" cy="382.8" r="1.05"/><circle cx="994.0" cy="377.9" r="1.05"/><circle cx="995.5" cy="373.1" r="1.05"/><circle cx="996.8" cy="368.0" r="1.05"/><circle cx="998.1" cy="363.1" r="1.05"/><circle cx="999.3" cy="358.2" r="1.05"/><circle cx="1000.6" cy="353.4" r="1.05"/><circle cx="1001.9" cy="348.3" r="1.05"/><circle cx="1003.3" cy="343.5" r="1.05"/><circle cx="1004.9" cy="338.7" r="1.05"/><circle cx="1006.8" cy="334.0" r="1.05"/><circle cx="1009.5" cy="329.7" r="1.05"/><circle cx="1014.0" cy="328.9" r="1.05"/><circle cx="1017.2" cy="332.9" r="1.05"/><circle cx="1019.4" cy="337.6" r="1.05"/><circle cx="1021.3" cy="342.2" r="1.05"/><circle cx="1023.0" cy="347.0" r="1.05"/><circle cx="1024.6" cy="351.8" r="1.05"/><circle cx="1026.2" cy="356.8" r="1.05"/><circle cx="1027.8" cy="361.6" r="1.05"/><circle cx="1029.4" cy="366.4" r="1.05"/><circle cx="1031.2" cy="371.3" r="1.05"/><circle cx="1033.1" cy="375.9" r="1.05"/><circle cx="1035.4" cy="380.5" r="1.05"/><circle cx="1038.2" cy="384.7" r="1.05"/><circle cx="1042.4" cy="387.3" r="1.05"/><circle cx="1047.2" cy="385.8" r="1.05"/><circle cx="1050.8" cy="382.3" r="1.05"/><circle cx="1054.0" cy="378.3" r="1.05"/><circle cx="1057.2" cy="374.3" r="1.05"/><circle cx="1060.6" cy="370.5" r="1.05"/><circle cx="1064.7" cy="367.5" r="1.05"/><circle cx="1069.7" cy="366.9" r="1.05"/><circle cx="1074.2" cy="369.1" r="1.05"/><circle cx="1078.0" cy="372.5" r="1.05"/><circle cx="1081.5" cy="376.3" r="1.05"/><circle cx="1084.9" cy="380.0" r="1.05"/><circle cx="1088.6" cy="383.6" r="1.05"/><circle cx="1092.8" cy="386.3" r="1.05"/></g>
<path d="M771.30 387.40L771.57 387.39L771.84 387.35L772.12 387.29L772.39 387.21L772.66 387.12L772.93 387.01L773.20 386.88L773.47 386.75L773.75 386.60L774.02 386.45L774.29 386.30L774.56 386.14L774.83 385.98L775.11 385.82L775.38 385.66L775.65 385.51L775.92 385.37L776.19 385.24L776.46 385.12L776.74 385.00L777.01 384.88L777.28 384.76L777.55 384.63L777.82 384.51L778.10 384.38L778.37 384.26L778.64 384.13L778.91 384.01L779.18 383.88L779.45 383.76L779.73 383.64L780.00 383.53L780.27 383.42L780.54 383.31L780.81 383.20L781.09 383.10L781.36 383.01L781.63 382.92L781.90 382.84L782.17 382.76L782.45 382.69L782.72 382.62L782.99 382.54L783.26 382.47L783.53 382.40L783.80 382.32L784.08 382.25L784.35 382.18L784.62 382.12L784.89 382.05L785.16 381.99L785.44 381.93L785.71 381.88L785.98 381.83L786.25 381.78L786.52 381.74L786.79 381.71L787.07 381.68L787.34 381.66L787.61 381.64L787.88 381.64L788.15 381.64L788.43 381.64L788.70 381.66L788.97 381.68L789.24 381.71L789.51 381.75L789.78 381.79L790.06 381.84L790.33 381.89L790.60 381.94L790.87 382.00L791.14 382.06L791.42 382.13L791.69 382.20L791.96 382.27L792.23 382.34L792.50 382.42L792.77 382.49L793.05 382.57L793.32 382.64L793.59 382.72L793.86 382.79L794.13 382.88L794.41 382.97L794.68 383.08L794.95 383.20L795.22 383.32L795.49 383.45L795.76 383.58L796.04 383.72L796.31 383.86L796.58 384.01L796.85 384.15L797.12 384.29L797.40 384.44L797.67 384.58L797.94 384.71L798.21 384.85L798.48 384.97L798.76 385.09L799.03 385.20L799.30 385.30L799.57 385.39L799.84 385.48L800.11 385.57L800.39 385.65L800.66 385.74L800.93 385.82L801.20 385.91L801.47 385.99L801.75 386.07L802.02 386.14L802.29 386.22L802.56 386.29L802.83 386.36L803.10 386.42L803.38 386.49L803.65 386.54L803.92 386.60L804.19 386.64L804.46 386.68L804.74 386.72L805.01 386.75L805.28 386.77L805.55 386.79L805.82 386.81L806.09 386.83L806.37 386.85L806.64 386.87L806.91 386.88L807.18 386.90L807.45 386.92L807.73 386.93L808.00 386.95L808.27 386.96L808.54 386.97L808.81 386.98L809.08 386.99L809.36 387.00L809.63 387.01L809.90 387.01L810.17 387.02L810.44 387.02L810.72 387.02L810.99 387.02L811.26 387.02L811.53 387.01L811.80 387.00L812.07 386.99L812.35 386.97L812.62 386.95L812.89 386.92L813.16 386.89L813.43 386.86L813.71 386.82L813.98 386.78L814.25 386.74L814.52 386.70L814.79 386.65L815.07 386.60L815.34 386.56L815.61 386.50L815.88 386.45L816.15 386.40L816.42 386.35L816.70 386.29L816.97 386.24L817.24 386.17L817.51 386.10L817.78 386.02L818.06 385.93L818.33 385.84L818.60 385.73L818.87 385.62L819.14 385.51L819.41 385.39L819.69 385.26L819.96 385.14L820.23 385.00L820.50 384.87L820.77 384.73L821.05 384.58L821.32 384.44L821.59 384.29L821.86 384.15L822.13 384.00L822.40 383.85L822.68 383.71L822.95 383.55L823.22 383.39L823.49 383.22L823.76 383.04L824.04 382.86L824.31 382.67L824.58 382.48L824.85 382.28L825.12 382.08L825.39 381.88L825.67 381.67L825.94 381.43L826.21 381.18L826.48 380.92L826.75 380.66L827.03 380.40L827.30 380.14L827.57 379.87L827.84 379.60L828.11 379.32L828.38 379.05L828.66 378.77L828.93 378.48L829.20 378.20L829.47 377.91L829.74 377.62L830.02 377.33L830.29 377.04L830.56 376.75L830.83 376.45L831.10 376.16L831.38 375.86L831.65 375.57L831.92 375.27L832.19 374.97L832.46 374.68L832.73 374.38L833.01 374.08L833.28 373.79L833.55 373.50L833.82 373.20L834.09 372.91L834.37 372.63L834.64 372.34L834.91 372.06L835.18 371.77L835.45 371.50L835.72 371.22L836.00 370.95L836.27 370.68L836.54 370.42L836.81 370.16L837.08 369.90L837.36 369.65L837.63 369.41L837.90 369.17L838.17 368.93L838.44 368.70L838.71 368.48L838.99 368.26L839.26 368.05L839.53 367.85L839.80 367.65L840.07 367.46L840.35 367.28L840.62 367.10L840.89 366.93L841.16 366.77L841.43 366.62L841.70 366.48L841.98 366.34L842.25 366.22L842.52 366.10L842.79 366.00L843.06 365.90L843.34 365.81L843.61 365.73L843.88 365.66L844.15 365.61L844.42 365.56L844.69 365.52L844.97 365.49L845.24 365.48L845.51 365.47L845.78 365.47L846.05 365.49L846.33 365.52L846.60 365.55L846.87 365.60L847.14 365.66L847.41 365.73L847.69 365.82L847.96 365.91L848.23 366.02L848.50 366.13L848.77 366.26L849.04 366.40L849.32 366.55L849.59 366.71L849.86 366.89L850.13 367.07L850.40 367.26L850.68 367.47L850.95 367.69L851.22 367.91L851.49 368.15L851.76 368.40L852.03 368.66L852.31 368.92L852.58 369.20L852.85 369.49L853.12 369.79L853.39 370.09L853.67 370.41L853.94 370.73L854.21 371.06L854.48 371.40L854.75 371.75L855.02 372.11L855.30 372.47L855.57 372.84L855.84 373.21L856.11 373.59L856.38 373.98L856.66 374.37L856.93 374.77L857.20 375.17L857.47 375.57L857.74 375.98L858.01 376.39L858.29 376.80L858.56 377.21L858.83 377.63L859.10 378.04L859.37 378.46L859.65 378.87L859.92 379.28L860.19 379.69L860.46 380.10L860.73 380.51L861.00 380.91L861.28 381.31L861.55 381.70L861.82 382.08L862.09 382.46L862.36 382.83L862.64 383.19L862.91 383.55L863.18 383.89L863.45 384.22L863.72 384.55L864.00 384.85L864.27 385.15L864.54 385.43L864.81 385.70L865.08 385.95L865.35 386.18L865.63 386.40L865.90 386.60L866.17 386.78L866.44 386.93L866.71 387.07L866.99 387.19L867.26 387.28L867.53 387.34L867.80 387.38L868.07 387.40L868.34 387.39L868.62 387.35L868.89 387.28L869.16 387.18L869.43 387.05L869.70 386.88L869.98 386.69L870.25 386.45L870.52 386.19L870.79 385.88L871.06 385.54L871.33 385.16L871.61 384.74L871.88 384.28L872.15 383.78L872.42 383.23L872.69 382.64L872.97 382.01L873.24 381.33L873.51 380.60L873.78 379.82L874.05 379.00L874.32 378.12L874.60 377.19L874.87 376.21L875.14 375.18L875.41 374.09L875.68 372.95L875.96 371.75L876.23 370.49L876.50 369.17L876.77 367.79L877.04 366.35L877.31 364.85L877.59 363.29L877.86 361.67L878.13 359.98L878.40 358.22L878.67 356.40L878.95 354.51L879.22 352.55L879.49 350.52L879.76 348.42L880.03 346.25L880.31 344.01L880.58 341.70L880.85 339.31L881.12 336.85L881.39 334.31L881.66 331.70L881.94 329.01L882.21 326.25L882.48 323.40L882.75 320.48L883.02 317.48L883.30 314.40L883.57 311.23L883.84 307.99L884.11 304.67L884.38 301.26L884.65 297.77L884.93 294.20L885.20 290.54L885.47 286.80L885.74 282.97L886.01 279.06L886.29 275.06L886.56 270.98L886.83 266.82L887.10 262.56L887.37 258.22L887.64 253.79L887.92 249.28L888.19 244.68L888.46 239.99L888.73 235.22L889.00 230.36L889.28 225.41L889.55 220.37L889.82 215.25L890.09 210.04L890.36 204.74L890.63 199.35L890.91 193.88L891.18 188.32M977.62 188.32L977.89 193.88L978.17 199.35L978.44 204.74L978.71 210.04L978.98 215.25L979.25 220.37L979.52 225.41L979.80 230.36L980.07 235.22L980.34 239.99L980.61 244.68L980.88 249.28L981.16 253.79L981.43 258.22L981.70 262.56L981.97 266.82L982.24 270.98L982.51 275.06L982.79 279.06L983.06 282.97L983.33 286.80L983.60 290.54L983.87 294.20L984.15 297.77L984.42 301.26L984.69 304.67L984.96 307.99L985.23 311.23L985.50 314.40L985.78 317.48L986.05 320.48L986.32 323.40L986.59 326.25L986.86 329.01L987.14 331.70L987.41 334.31L987.68 336.85L987.95 339.31L988.22 341.70L988.49 344.01L988.77 346.25L989.04 348.42L989.31 350.52L989.58 352.55L989.85 354.51L990.13 356.40L990.40 358.22L990.67 359.98L990.94 361.67L991.21 363.29L991.48 364.85L991.76 366.35L992.03 367.79L992.30 369.17L992.57 370.49L992.84 371.75L993.12 372.95L993.39 374.09L993.66 375.18L993.93 376.21L994.20 377.19L994.48 378.12L994.75 379.00L995.02 379.82L995.29 380.60L995.56 381.33L995.83 382.01L996.11 382.64L996.38 383.23L996.65 383.78L996.92 384.28L997.19 384.74L997.47 385.16L997.74 385.54L998.01 385.88L998.28 386.19L998.55 386.45L998.82 386.69L999.10 386.88L999.37 387.05L999.64 387.18L999.91 387.28L1000.18 387.35L1000.46 387.39L1000.73 387.40L1001.00 387.38L1001.27 387.34L1001.54 387.28L1001.81 387.19L1002.09 387.07L1002.36 386.93L1002.63 386.78L1002.90 386.60L1003.17 386.40L1003.45 386.18L1003.72 385.95L1003.99 385.70L1004.26 385.43L1004.53 385.15L1004.80 384.85L1005.08 384.55L1005.35 384.22L1005.62 383.89L1005.89 383.55L1006.16 383.19L1006.44 382.83L1006.71 382.46L1006.98 382.08L1007.25 381.70L1007.52 381.31L1007.80 380.91L1008.07 380.51L1008.34 380.10L1008.61 379.69L1008.88 379.28L1009.15 378.87L1009.43 378.46L1009.70 378.04L1009.97 377.63L1010.24 377.21L1010.51 376.80L1010.79 376.39L1011.06 375.98L1011.33 375.57L1011.60 375.17L1011.87 374.77L1012.14 374.37L1012.42 373.98L1012.69 373.59L1012.96 373.21L1013.23 372.84L1013.50 372.47L1013.78 372.11L1014.05 371.75L1014.32 371.40L1014.59 371.06L1014.86 370.73L1015.13 370.41L1015.41 370.09L1015.68 369.79L1015.95 369.49L1016.22 369.20L1016.49 368.92L1016.77 368.66L1017.04 368.40L1017.31 368.15L1017.58 367.91L1017.85 367.69L1018.12 367.47L1018.40 367.26L1018.67 367.07L1018.94 366.89L1019.21 366.71L1019.48 366.55L1019.76 366.40L1020.03 366.26L1020.30 366.13L1020.57 366.02L1020.84 365.91L1021.11 365.82L1021.39 365.73L1021.66 365.66L1021.93 365.60L1022.20 365.55L1022.47 365.52L1022.75 365.49L1023.02 365.47L1023.29 365.47L1023.56 365.48L1023.83 365.49L1024.11 365.52L1024.38 365.56L1024.65 365.61L1024.92 365.66L1025.19 365.73L1025.46 365.81L1025.74 365.90L1026.01 366.00L1026.28 366.10L1026.55 366.22L1026.82 366.34L1027.10 366.48L1027.37 366.62L1027.64 366.77L1027.91 366.93L1028.18 367.10L1028.45 367.28L1028.73 367.46L1029.00 367.65L1029.27 367.85L1029.54 368.05L1029.81 368.26L1030.09 368.48L1030.36 368.70L1030.63 368.93L1030.90 369.17L1031.17 369.41L1031.44 369.65L1031.72 369.90L1031.99 370.16L1032.26 370.42L1032.53 370.68L1032.80 370.95L1033.08 371.22L1033.35 371.50L1033.62 371.77L1033.89 372.06L1034.16 372.34L1034.43 372.63L1034.71 372.91L1034.98 373.20L1035.25 373.50L1035.52 373.79L1035.79 374.08L1036.07 374.38L1036.34 374.68L1036.61 374.97L1036.88 375.27L1037.15 375.57L1037.42 375.86L1037.70 376.16L1037.97 376.45L1038.24 376.75L1038.51 377.04L1038.78 377.33L1039.06 377.62L1039.33 377.91L1039.60 378.20L1039.87 378.48L1040.14 378.77L1040.41 379.05L1040.69 379.32L1040.96 379.60L1041.23 379.87L1041.50 380.14L1041.77 380.40L1042.05 380.66L1042.32 380.92L1042.59 381.18L1042.86 381.43L1043.13 381.67L1043.41 381.88L1043.68 382.08L1043.95 382.28L1044.22 382.48L1044.49 382.67L1044.76 382.86L1045.04 383.04L1045.31 383.22L1045.58 383.39L1045.85 383.55L1046.12 383.71L1046.40 383.85L1046.67 384.00L1046.94 384.15L1047.21 384.29L1047.48 384.44L1047.75 384.58L1048.03 384.73L1048.30 384.87L1048.57 385.00L1048.84 385.14L1049.11 385.26L1049.39 385.39L1049.66 385.51L1049.93 385.62L1050.20 385.73L1050.47 385.84L1050.74 385.93L1051.02 386.02L1051.29 386.10L1051.56 386.17L1051.83 386.24L1052.10 386.29L1052.38 386.35L1052.65 386.40L1052.92 386.45L1053.19 386.50L1053.46 386.56L1053.73 386.60L1054.01 386.65L1054.28 386.70L1054.55 386.74L1054.82 386.78L1055.09 386.82L1055.37 386.86L1055.64 386.89L1055.91 386.92L1056.18 386.95L1056.45 386.97L1056.72 386.99L1057.00 387.00L1057.27 387.01L1057.54 387.02L1057.81 387.02L1058.08 387.02L1058.36 387.02L1058.63 387.02L1058.90 387.01L1059.17 387.01L1059.44 387.00L1059.72 386.99L1059.99 386.98L1060.26 386.97L1060.53 386.96L1060.80 386.95L1061.07 386.93L1061.35 386.92L1061.62 386.90L1061.89 386.88L1062.16 386.87L1062.43 386.85L1062.71 386.83L1062.98 386.81L1063.25 386.79L1063.52 386.77L1063.79 386.75L1064.06 386.72L1064.34 386.68L1064.61 386.64L1064.88 386.60L1065.15 386.54L1065.42 386.49L1065.70 386.42L1065.97 386.36L1066.24 386.29L1066.51 386.22L1066.78 386.14L1067.05 386.07L1067.33 385.99L1067.60 385.91L1067.87 385.82L1068.14 385.74L1068.41 385.65L1068.69 385.57L1068.96 385.48L1069.23 385.39L1069.50 385.30L1069.77 385.20L1070.04 385.09L1070.32 384.97L1070.59 384.85L1070.86 384.71L1071.13 384.58L1071.40 384.44L1071.68 384.29L1071.95 384.15L1072.22 384.01L1072.49 383.86L1072.76 383.72L1073.03 383.58L1073.31 383.45L1073.58 383.32L1073.85 383.20L1074.12 383.08L1074.39 382.97L1074.67 382.88L1074.94 382.79L1075.21 382.72L1075.48 382.64L1075.75 382.57L1076.03 382.49L1076.30 382.42L1076.57 382.34L1076.84 382.27L1077.11 382.20L1077.38 382.13L1077.66 382.06L1077.93 382.00L1078.20 381.94L1078.47 381.89L1078.74 381.84L1079.02 381.79L1079.29 381.75L1079.56 381.71L1079.83 381.68L1080.10 381.66L1080.37 381.64L1080.65 381.64L1080.92 381.64L1081.19 381.64L1081.46 381.66L1081.73 381.68L1082.01 381.71L1082.28 381.74L1082.55 381.78L1082.82 381.83L1083.09 381.88L1083.36 381.93L1083.64 381.99L1083.91 382.05L1084.18 382.12L1084.45 382.18L1084.72 382.25L1085.00 382.32L1085.27 382.40L1085.54 382.47L1085.81 382.54L1086.08 382.62L1086.35 382.69L1086.63 382.76L1086.90 382.84L1087.17 382.92L1087.44 383.01L1087.71 383.10L1087.99 383.20L1088.26 383.31L1088.53 383.42L1088.80 383.53L1089.07 383.64L1089.35 383.76L1089.62 383.88L1089.89 384.01L1090.16 384.13L1090.43 384.26L1090.70 384.38L1090.98 384.51L1091.25 384.63L1091.52 384.76L1091.79 384.88L1092.06 385.00L1092.34 385.12L1092.61 385.24L1092.88 385.37L1093.15 385.51L1093.42 385.66L1093.69 385.82L1093.97 385.98L1094.24 386.14L1094.51 386.30L1094.78 386.45L1095.05 386.60L1095.33 386.75L1095.60 386.88L1095.87 387.01L1096.14 387.12L1096.41 387.21L1096.68 387.29L1096.96 387.35L1097.23 387.39L1097.50 387.40" stroke="#c6061f" stroke-width="2.0" stroke-linejoin="round"/>
</g>
<g font-family="'Liberation Sans', sans-serif" fill="#111" stroke="#111" stroke-width="0.3">
<text transform="translate(154.40 51.00) scale(0.920 1)" font-size="22.5" text-anchor="start">A</text>
<text transform="translate(749.50 50.70) scale(0.840 1)" font-size="22.3" text-anchor="start">B</text>
<text transform="translate(337.60 63.90) scale(1.000 1)" font-size="22.3" text-anchor="start" font-style="italic">I</text>
<text transform="translate(344.00 67.60) scale(0.950 1)" font-size="15" text-anchor="start" stroke-width="0.55">φ</text>
<text transform="translate(608.00 355.00) scale(0.970 1)" font-size="22" text-anchor="start">sin</text>
<text transform="translate(640.60 355.00) scale(0.970 1)" font-size="22" text-anchor="start" font-style="italic">φ</text>
<text transform="translate(719.50 192.00) scale(1.000 1)" font-size="22.3" text-anchor="start" font-style="italic">I</text>
<text transform="translate(725.60 196.70) scale(0.950 1)" font-size="15" text-anchor="start" stroke-width="0.55">φ</text>
<text transform="translate(766.20 203.80) scale(0.960 1)" font-size="13" text-anchor="end">0,15</text>
<text transform="translate(766.40 297.70) scale(0.985 1)" font-size="13" text-anchor="end">0,075</text>
<text transform="translate(766.20 392.50) scale(0.960 1)" font-size="13" text-anchor="end">0</text>
<text transform="translate(850.30 247.80) scale(0.910 1)" font-size="22" text-anchor="start">ava</text>
<text transform="translate(893.40 337.90) scale(1.050 1)" font-size="22" text-anchor="start">pilu</text>
<text transform="translate(1122.00 394.30) scale(0.970 1)" font-size="22" text-anchor="start">sin</text>
<text transform="translate(1154.60 394.30) scale(0.970 1)" font-size="22" text-anchor="start" font-style="italic">φ</text>
<text transform="translate(771.10 407.00) scale(0.950 1)" font-size="13" text-anchor="middle">-3</text>
<text transform="translate(783.55 401.00) scale(0.950 1)" font-size="12.8" text-anchor="middle" font-style="italic">λ</text>
<line x1="777.70" y1="402.5" x2="787.80" y2="402.5" stroke="#111" stroke-width="0.8"/>
<text transform="translate(781.85 413.70) scale(0.930 1)" font-size="13.1" text-anchor="middle" font-style="italic">D</text>
<text transform="translate(825.15 407.00) scale(0.950 1)" font-size="13" text-anchor="middle">-2</text>
<text transform="translate(839.62 401.00) scale(0.950 1)" font-size="12.8" text-anchor="middle" font-style="italic">λ</text>
<line x1="833.75" y1="402.5" x2="843.90" y2="402.5" stroke="#111" stroke-width="0.8"/>
<text transform="translate(837.93 413.70) scale(0.930 1)" font-size="13.1" text-anchor="middle" font-style="italic">D</text>
<text transform="translate(878.90 407.00) scale(0.950 1)" font-size="13" text-anchor="middle">-1</text>
<text transform="translate(892.75 401.00) scale(0.950 1)" font-size="12.8" text-anchor="middle" font-style="italic">λ</text>
<line x1="886.70" y1="402.5" x2="897.20" y2="402.5" stroke="#111" stroke-width="0.8"/>
<text transform="translate(891.05 413.70) scale(0.930 1)" font-size="13.1" text-anchor="middle" font-style="italic">D</text>
<text transform="translate(934.15 407.00) scale(0.950 1)" font-size="13" text-anchor="middle">0</text>
<text transform="translate(988.20 407.00) scale(0.950 1)" font-size="13" text-anchor="middle">1</text>
<text transform="translate(998.05 401.00) scale(0.950 1)" font-size="12.8" text-anchor="middle" font-style="italic">λ</text>
<line x1="991.80" y1="402.5" x2="1002.70" y2="402.5" stroke="#111" stroke-width="0.8"/>
<text transform="translate(996.35 413.70) scale(0.930 1)" font-size="13.1" text-anchor="middle" font-style="italic">D</text>
<text transform="translate(1043.10 407.00) scale(0.950 1)" font-size="13" text-anchor="middle">2</text>
<text transform="translate(1054.38 401.00) scale(0.950 1)" font-size="12.8" text-anchor="middle" font-style="italic">λ</text>
<line x1="1048.40" y1="402.5" x2="1058.75" y2="402.5" stroke="#111" stroke-width="0.8"/>
<text transform="translate(1052.67 413.70) scale(0.930 1)" font-size="13.1" text-anchor="middle" font-style="italic">D</text>
<text transform="translate(1098.00 407.00) scale(0.950 1)" font-size="13" text-anchor="middle">3</text>
<text transform="translate(1108.55 401.00) scale(0.950 1)" font-size="12.8" text-anchor="middle" font-style="italic">λ</text>
<line x1="1102.50" y1="402.5" x2="1113.00" y2="402.5" stroke="#111" stroke-width="0.8"/>
<text transform="translate(1106.85 413.70) scale(0.930 1)" font-size="13.1" text-anchor="middle" font-style="italic">D</text>
</g>
</svg></body></html>
